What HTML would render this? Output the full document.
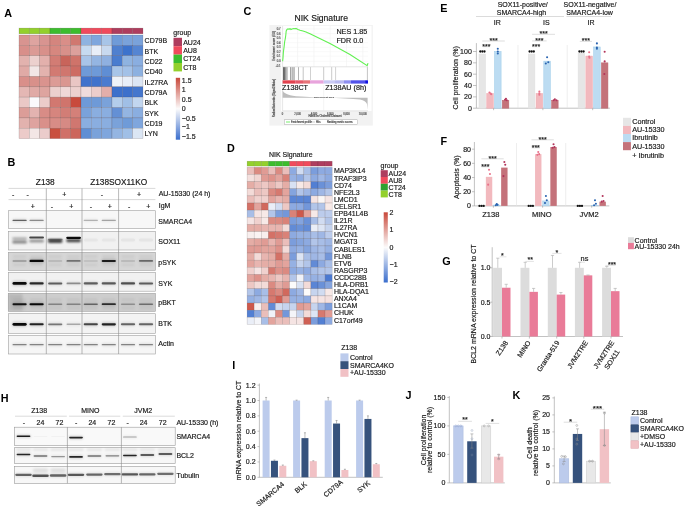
<!DOCTYPE html>
<html><head><meta charset="utf-8"><title>Figure</title>
<style>
html,body{margin:0;padding:0;background:#fff;}
svg{display:block;font-family:"Liberation Sans",sans-serif;font-size:7px;fill:#1a1a1a;will-change:transform;}

</style></head><body>
<svg width="685" height="506" viewBox="0 0 685 506">
<rect width="685" height="506" fill="#fff"/>
<text x="4.2" y="16.8" font-weight="bold" font-size="10.8" fill="#000">A</text>
<g stroke="#3a2a2a" stroke-opacity="0.3" stroke-width="0.5">
<rect x="19" y="28.1" width="10.33" height="5.7" fill="#93d02c"/>
<rect x="29.33" y="28.1" width="10.33" height="5.7" fill="#93d02c"/>
<rect x="39.66" y="28.1" width="10.33" height="5.7" fill="#93d02c"/>
<rect x="49.99" y="28.1" width="10.33" height="5.7" fill="#3cbd2e"/>
<rect x="60.32" y="28.1" width="10.33" height="5.7" fill="#3cbd2e"/>
<rect x="70.65" y="28.1" width="10.33" height="5.7" fill="#3cbd2e"/>
<rect x="80.98" y="28.1" width="10.33" height="5.7" fill="#f04a5c"/>
<rect x="91.31" y="28.1" width="10.33" height="5.7" fill="#f04a5c"/>
<rect x="101.64" y="28.1" width="10.33" height="5.7" fill="#f04a5c"/>
<rect x="111.97" y="28.1" width="10.33" height="5.7" fill="#ae3d5e"/>
<rect x="122.3" y="28.1" width="10.33" height="5.7" fill="#ae3d5e"/>
<rect x="132.63" y="28.1" width="10.33" height="5.7" fill="#ae3d5e"/>
<rect x="19" y="35" width="10.33" height="10.36" fill="#d89490"/>
<rect x="29.33" y="35" width="10.33" height="10.36" fill="#dea4a0"/>
<rect x="39.66" y="35" width="10.33" height="10.36" fill="#d89490"/>
<rect x="49.99" y="35" width="10.33" height="10.36" fill="#d4857e"/>
<rect x="60.32" y="35" width="10.33" height="10.36" fill="#d98e88"/>
<rect x="70.65" y="35" width="10.33" height="10.36" fill="#d07870"/>
<rect x="80.98" y="35" width="10.33" height="10.36" fill="#8fb3e0"/>
<rect x="91.31" y="35" width="10.33" height="10.36" fill="#7fa6dd"/>
<rect x="101.64" y="35" width="10.33" height="10.36" fill="#a8c5e8"/>
<rect x="111.97" y="35" width="10.33" height="10.36" fill="#6f9bd8"/>
<rect x="122.3" y="35" width="10.33" height="10.36" fill="#7aa2da"/>
<rect x="132.63" y="35" width="10.33" height="10.36" fill="#7aa2da"/>
<rect x="19" y="45.36" width="10.33" height="10.36" fill="#d88f8a"/>
<rect x="29.33" y="45.36" width="10.33" height="10.36" fill="#db9a95"/>
<rect x="39.66" y="45.36" width="10.33" height="10.36" fill="#d8908a"/>
<rect x="49.99" y="45.36" width="10.33" height="10.36" fill="#d6877f"/>
<rect x="60.32" y="45.36" width="10.33" height="10.36" fill="#d8908a"/>
<rect x="70.65" y="45.36" width="10.33" height="10.36" fill="#dca09c"/>
<rect x="80.98" y="45.36" width="10.33" height="10.36" fill="#c6daf0"/>
<rect x="91.31" y="45.36" width="10.33" height="10.36" fill="#e8eef8"/>
<rect x="101.64" y="45.36" width="10.33" height="10.36" fill="#c8d9ef"/>
<rect x="111.97" y="45.36" width="10.33" height="10.36" fill="#4f80cf"/>
<rect x="122.3" y="45.36" width="10.33" height="10.36" fill="#3d73cc"/>
<rect x="132.63" y="45.36" width="10.33" height="10.36" fill="#5585d2"/>
<rect x="19" y="55.72" width="10.33" height="10.36" fill="#e2b2ae"/>
<rect x="29.33" y="55.72" width="10.33" height="10.36" fill="#ecd0ce"/>
<rect x="39.66" y="55.72" width="10.33" height="10.36" fill="#e3b0ac"/>
<rect x="49.99" y="55.72" width="10.33" height="10.36" fill="#d27c74"/>
<rect x="60.32" y="55.72" width="10.33" height="10.36" fill="#c8645a"/>
<rect x="70.65" y="55.72" width="10.33" height="10.36" fill="#cf736a"/>
<rect x="80.98" y="55.72" width="10.33" height="10.36" fill="#a8c4e8"/>
<rect x="91.31" y="55.72" width="10.33" height="10.36" fill="#94b5e2"/>
<rect x="101.64" y="55.72" width="10.33" height="10.36" fill="#8fb0e0"/>
<rect x="111.97" y="55.72" width="10.33" height="10.36" fill="#4a7dcf"/>
<rect x="122.3" y="55.72" width="10.33" height="10.36" fill="#8fb3e0"/>
<rect x="132.63" y="55.72" width="10.33" height="10.36" fill="#8aaee0"/>
<rect x="19" y="66.08" width="10.33" height="10.36" fill="#e0aaa6"/>
<rect x="29.33" y="66.08" width="10.33" height="10.36" fill="#f2e6e6"/>
<rect x="39.66" y="66.08" width="10.33" height="10.36" fill="#e3b2ae"/>
<rect x="49.99" y="66.08" width="10.33" height="10.36" fill="#d27a72"/>
<rect x="60.32" y="66.08" width="10.33" height="10.36" fill="#d0766e"/>
<rect x="70.65" y="66.08" width="10.33" height="10.36" fill="#cd6c64"/>
<rect x="80.98" y="66.08" width="10.33" height="10.36" fill="#6e9ad8"/>
<rect x="91.31" y="66.08" width="10.33" height="10.36" fill="#6e9ad8"/>
<rect x="101.64" y="66.08" width="10.33" height="10.36" fill="#5f8ed4"/>
<rect x="111.97" y="66.08" width="10.33" height="10.36" fill="#a8c5e8"/>
<rect x="122.3" y="66.08" width="10.33" height="10.36" fill="#a3c1e7"/>
<rect x="132.63" y="66.08" width="10.33" height="10.36" fill="#8db1e0"/>
<rect x="19" y="76.44" width="10.33" height="10.36" fill="#d98f8a"/>
<rect x="29.33" y="76.44" width="10.33" height="10.36" fill="#d8908a"/>
<rect x="39.66" y="76.44" width="10.33" height="10.36" fill="#da938e"/>
<rect x="49.99" y="76.44" width="10.33" height="10.36" fill="#dc9b96"/>
<rect x="60.32" y="76.44" width="10.33" height="10.36" fill="#da9690"/>
<rect x="70.65" y="76.44" width="10.33" height="10.36" fill="#e9c6c4"/>
<rect x="80.98" y="76.44" width="10.33" height="10.36" fill="#4173cc"/>
<rect x="91.31" y="76.44" width="10.33" height="10.36" fill="#4173cc"/>
<rect x="101.64" y="76.44" width="10.33" height="10.36" fill="#4a7bcf"/>
<rect x="111.97" y="76.44" width="10.33" height="10.36" fill="#eef2f8"/>
<rect x="122.3" y="76.44" width="10.33" height="10.36" fill="#e8eef8"/>
<rect x="132.63" y="76.44" width="10.33" height="10.36" fill="#dce6f4"/>
<rect x="19" y="86.8" width="10.33" height="10.36" fill="#e4b7b4"/>
<rect x="29.33" y="86.8" width="10.33" height="10.36" fill="#e0aaa6"/>
<rect x="39.66" y="86.8" width="10.33" height="10.36" fill="#dea49f"/>
<rect x="49.99" y="86.8" width="10.33" height="10.36" fill="#ecd0ce"/>
<rect x="60.32" y="86.8" width="10.33" height="10.36" fill="#efd8d7"/>
<rect x="70.65" y="86.8" width="10.33" height="10.36" fill="#ecd0ce"/>
<rect x="80.98" y="86.8" width="10.33" height="10.36" fill="#f0dcdc"/>
<rect x="91.31" y="86.8" width="10.33" height="10.36" fill="#eccdcb"/>
<rect x="101.64" y="86.8" width="10.33" height="10.36" fill="#e2aeaa"/>
<rect x="111.97" y="86.8" width="10.33" height="10.36" fill="#3c70cb"/>
<rect x="122.3" y="86.8" width="10.33" height="10.36" fill="#3c70cb"/>
<rect x="132.63" y="86.8" width="10.33" height="10.36" fill="#4577cd"/>
<rect x="19" y="97.16" width="10.33" height="10.36" fill="#eac8c6"/>
<rect x="29.33" y="97.16" width="10.33" height="10.36" fill="#fafafc"/>
<rect x="39.66" y="97.16" width="10.33" height="10.36" fill="#ecccca"/>
<rect x="49.99" y="97.16" width="10.33" height="10.36" fill="#d27870"/>
<rect x="60.32" y="97.16" width="10.33" height="10.36" fill="#d0746c"/>
<rect x="70.65" y="97.16" width="10.33" height="10.36" fill="#c84a3c"/>
<rect x="80.98" y="97.16" width="10.33" height="10.36" fill="#6e9ad8"/>
<rect x="91.31" y="97.16" width="10.33" height="10.36" fill="#6e9ad8"/>
<rect x="101.64" y="97.16" width="10.33" height="10.36" fill="#7aa2da"/>
<rect x="111.97" y="97.16" width="10.33" height="10.36" fill="#b3cdeb"/>
<rect x="122.3" y="97.16" width="10.33" height="10.36" fill="#a0bfe6"/>
<rect x="132.63" y="97.16" width="10.33" height="10.36" fill="#c2d6ef"/>
<rect x="19" y="107.52" width="10.33" height="10.36" fill="#dc9d98"/>
<rect x="29.33" y="107.52" width="10.33" height="10.36" fill="#e3b3b0"/>
<rect x="39.66" y="107.52" width="10.33" height="10.36" fill="#d88c86"/>
<rect x="49.99" y="107.52" width="10.33" height="10.36" fill="#d6857e"/>
<rect x="60.32" y="107.52" width="10.33" height="10.36" fill="#d27d76"/>
<rect x="70.65" y="107.52" width="10.33" height="10.36" fill="#d48079"/>
<rect x="80.98" y="107.52" width="10.33" height="10.36" fill="#7aa2da"/>
<rect x="91.31" y="107.52" width="10.33" height="10.36" fill="#8aaee0"/>
<rect x="101.64" y="107.52" width="10.33" height="10.36" fill="#8aaee0"/>
<rect x="111.97" y="107.52" width="10.33" height="10.36" fill="#6490d5"/>
<rect x="122.3" y="107.52" width="10.33" height="10.36" fill="#94b5e2"/>
<rect x="132.63" y="107.52" width="10.33" height="10.36" fill="#8aaee0"/>
<rect x="19" y="117.88" width="10.33" height="10.36" fill="#e2b2ae"/>
<rect x="29.33" y="117.88" width="10.33" height="10.36" fill="#dea39f"/>
<rect x="39.66" y="117.88" width="10.33" height="10.36" fill="#d9908a"/>
<rect x="49.99" y="117.88" width="10.33" height="10.36" fill="#d88c86"/>
<rect x="60.32" y="117.88" width="10.33" height="10.36" fill="#d68a84"/>
<rect x="70.65" y="117.88" width="10.33" height="10.36" fill="#d07770"/>
<rect x="80.98" y="117.88" width="10.33" height="10.36" fill="#8aaee0"/>
<rect x="91.31" y="117.88" width="10.33" height="10.36" fill="#8aaee0"/>
<rect x="101.64" y="117.88" width="10.33" height="10.36" fill="#8aaee0"/>
<rect x="111.97" y="117.88" width="10.33" height="10.36" fill="#7aa2da"/>
<rect x="122.3" y="117.88" width="10.33" height="10.36" fill="#6f9bd8"/>
<rect x="132.63" y="117.88" width="10.33" height="10.36" fill="#7fa6dd"/>
<rect x="19" y="128.24" width="10.33" height="10.36" fill="#eccbc9"/>
<rect x="29.33" y="128.24" width="10.33" height="10.36" fill="#f3e6e5"/>
<rect x="39.66" y="128.24" width="10.33" height="10.36" fill="#ebcccb"/>
<rect x="49.99" y="128.24" width="10.33" height="10.36" fill="#c9503f"/>
<rect x="60.32" y="128.24" width="10.33" height="10.36" fill="#d07068"/>
<rect x="70.65" y="128.24" width="10.33" height="10.36" fill="#cc665c"/>
<rect x="80.98" y="128.24" width="10.33" height="10.36" fill="#5f8ed4"/>
<rect x="91.31" y="128.24" width="10.33" height="10.36" fill="#7aa2da"/>
<rect x="101.64" y="128.24" width="10.33" height="10.36" fill="#7fa6dd"/>
<rect x="111.97" y="128.24" width="10.33" height="10.36" fill="#94b5e2"/>
<rect x="122.3" y="128.24" width="10.33" height="10.36" fill="#a0bfe6"/>
<rect x="132.63" y="128.24" width="10.33" height="10.36" fill="#dbe6f4"/>
</g>
<text x="144.6" y="43.18" stroke="#1a1a1a" stroke-width="0.18">CD79B</text>
<text x="144.6" y="53.54" stroke="#1a1a1a" stroke-width="0.18">BTK</text>
<text x="144.6" y="63.9" stroke="#1a1a1a" stroke-width="0.18">CD22</text>
<text x="144.6" y="74.26" stroke="#1a1a1a" stroke-width="0.18">CD40</text>
<text x="144.6" y="84.62" stroke="#1a1a1a" stroke-width="0.18">IL27RA</text>
<text x="144.6" y="94.98" stroke="#1a1a1a" stroke-width="0.18">CD79A</text>
<text x="144.6" y="105.34" stroke="#1a1a1a" stroke-width="0.18">BLK</text>
<text x="144.6" y="115.7" stroke="#1a1a1a" stroke-width="0.18">SYK</text>
<text x="144.6" y="126.06" stroke="#1a1a1a" stroke-width="0.18">CD19</text>
<text x="144.6" y="136.42" stroke="#1a1a1a" stroke-width="0.18">LYN</text>
<text x="173.3" y="34.9" stroke="#1a1a1a" stroke-width="0.18">group</text>
<rect x="173.5" y="37.8" width="8.5" height="8.4" fill="#ae3d5e"/>
<text x="183.2" y="44.5" stroke="#1a1a1a" stroke-width="0.18">AU24</text>
<rect x="173.5" y="46.2" width="8.5" height="8.4" fill="#f04a5c"/>
<text x="183.2" y="52.9" stroke="#1a1a1a" stroke-width="0.18">AU8</text>
<rect x="173.5" y="54.6" width="8.5" height="8.4" fill="#3cbd2e"/>
<text x="183.2" y="61.3" stroke="#1a1a1a" stroke-width="0.18">CT24</text>
<rect x="173.5" y="63" width="8.5" height="8.4" fill="#93d02c"/>
<text x="183.2" y="69.7" stroke="#1a1a1a" stroke-width="0.18">CT8</text>
<defs><linearGradient id="cbA" x1="0" y1="0" x2="0" y2="1"><stop offset="0" stop-color="#c8483a"/><stop offset="0.5" stop-color="#fcfbfb"/><stop offset="1" stop-color="#3a6ecd"/></linearGradient></defs>
<rect x="175.8" y="77.8" width="4.3" height="61.9" fill="url(#cbA)"/>
<text x="181.8" y="83.2" stroke="#1a1a1a" stroke-width="0.18">1.5</text>
<text x="181.8" y="92.4" stroke="#1a1a1a" stroke-width="0.18">1</text>
<text x="181.8" y="101.7" stroke="#1a1a1a" stroke-width="0.18">0.5</text>
<text x="181.8" y="110.9" stroke="#1a1a1a" stroke-width="0.18">0</text>
<text x="181.8" y="120.5" stroke="#1a1a1a" stroke-width="0.18">−0.5</text>
<text x="181.8" y="129.4" stroke="#1a1a1a" stroke-width="0.18">−1</text>
<text x="181.8" y="138.6" stroke="#1a1a1a" stroke-width="0.18">−1.5</text>
<text x="243.6" y="15.3" font-weight="bold" font-size="10.8" fill="#000">C</text>
<text x="321.2" y="21" stroke="#1a1a1a" stroke-width="0.18" text-anchor="middle" font-size="8.6">NIK Signature</text>
<rect x="269.4" y="25" width="103.4" height="100.6" fill="#f2f2f2"/>
<rect x="281.2" y="25.8" width="90.3" height="85.2" fill="#ffffff"/>
<line x1="297.6" y1="26" x2="297.6" y2="66.5" stroke="#eeeeee" stroke-width="0.5"/>
<line x1="313.9" y1="26" x2="313.9" y2="66.5" stroke="#eeeeee" stroke-width="0.5"/>
<line x1="330.2" y1="26" x2="330.2" y2="66.5" stroke="#eeeeee" stroke-width="0.5"/>
<line x1="346.5" y1="26" x2="346.5" y2="66.5" stroke="#eeeeee" stroke-width="0.5"/>
<line x1="362.8" y1="26" x2="362.8" y2="66.5" stroke="#eeeeee" stroke-width="0.5"/>
<line x1="282.6" y1="28.9" x2="368" y2="28.9" stroke="#f2f2f2" stroke-width="0.5"/>
<line x1="282.6" y1="33.6" x2="368" y2="33.6" stroke="#f2f2f2" stroke-width="0.5"/>
<line x1="282.6" y1="38.1" x2="368" y2="38.1" stroke="#f2f2f2" stroke-width="0.5"/>
<line x1="282.6" y1="42.7" x2="368" y2="42.7" stroke="#f2f2f2" stroke-width="0.5"/>
<line x1="282.6" y1="47.3" x2="368" y2="47.3" stroke="#f2f2f2" stroke-width="0.5"/>
<line x1="282.6" y1="51.7" x2="368" y2="51.7" stroke="#f2f2f2" stroke-width="0.5"/>
<line x1="282.6" y1="56.2" x2="368" y2="56.2" stroke="#f2f2f2" stroke-width="0.5"/>
<line x1="282.6" y1="61.3" x2="368" y2="61.3" stroke="#f2f2f2" stroke-width="0.5"/>
<line x1="282.6" y1="26" x2="282.6" y2="110.8" stroke="#cfcfcf" stroke-width="0.5"/>
<text x="280.6" y="29.9" stroke="#666" stroke-width="0.18" text-anchor="end" font-size="2.8" fill="#666">0.7</text>
<text x="280.6" y="34.6" stroke="#666" stroke-width="0.18" text-anchor="end" font-size="2.8" fill="#666">0.6</text>
<text x="280.6" y="39.1" stroke="#666" stroke-width="0.18" text-anchor="end" font-size="2.8" fill="#666">0.5</text>
<text x="280.6" y="43.7" stroke="#666" stroke-width="0.18" text-anchor="end" font-size="2.8" fill="#666">0.4</text>
<text x="280.6" y="48.3" stroke="#666" stroke-width="0.18" text-anchor="end" font-size="2.8" fill="#666">0.3</text>
<text x="280.6" y="52.7" stroke="#666" stroke-width="0.18" text-anchor="end" font-size="2.8" fill="#666">0.2</text>
<text x="280.6" y="57.2" stroke="#666" stroke-width="0.18" text-anchor="end" font-size="2.8" fill="#666">0.1</text>
<text x="280.6" y="62.3" stroke="#666" stroke-width="0.18" text-anchor="end" font-size="2.8" fill="#666">0.0</text>
<text x="280.6" y="67" stroke="#666" stroke-width="0.18" text-anchor="end" font-size="2.8" fill="#666">-0.1</text>
<text transform="translate(274.6,46) rotate(-90)" stroke="#555" stroke-width="0.18" text-anchor="middle" font-size="3" fill="#555">Enrichment score (ES)</text>
<text transform="translate(274.6,98) rotate(-90)" stroke="#555" stroke-width="0.18" text-anchor="middle" font-size="2.6" fill="#555">Ranked list metric (Signal2Noise)</text>
<polyline points="282.6,61.3 283,58 283.4,52 283.8,49 284.2,46 284.6,42 285,40 285.4,38 285.8,35 286.2,31 287,29.5 288,28.8 289,29.3 290,28.6 291,29.5 292,29.1 293,28.7 294,28.5 295,28.7 296,28.4 297,28.9 298,29.4 300,30.2 303,31 306,32 310,33.8 330,43.6 350,54.5 367.2,65.6 368,63.2" fill="none" stroke="#62f052" stroke-width="1.1"/>
<text x="336.4" y="34.1" stroke="#1a1a1a" stroke-width="0.18" font-size="7.2">NES 1.85</text>
<text x="336.4" y="42.8" stroke="#1a1a1a" stroke-width="0.18" font-size="7.2">FDR 0.0</text>
<line x1="283.5" y1="67.1" x2="283.5" y2="80" stroke="rgba(0,0,0,0.9)" stroke-width="0.6"/>
<line x1="284.3" y1="67.1" x2="284.3" y2="80" stroke="rgba(0,0,0,0.9)" stroke-width="0.6"/>
<line x1="285" y1="67.1" x2="285" y2="80" stroke="rgba(0,0,0,0.8)" stroke-width="0.6"/>
<line x1="286" y1="67.1" x2="286" y2="80" stroke="rgba(0,0,0,0.7)" stroke-width="0.6"/>
<line x1="287.2" y1="67.1" x2="287.2" y2="80" stroke="rgba(0,0,0,0.5)" stroke-width="0.6"/>
<line x1="290.5" y1="67.1" x2="290.5" y2="80" stroke="rgba(0,0,0,0.6)" stroke-width="0.6"/>
<line x1="292" y1="67.1" x2="292" y2="80" stroke="rgba(0,0,0,0.55)" stroke-width="0.6"/>
<line x1="293" y1="67.1" x2="293" y2="80" stroke="rgba(0,0,0,0.45)" stroke-width="0.6"/>
<line x1="294.2" y1="67.1" x2="294.2" y2="80" stroke="rgba(0,0,0,0.6)" stroke-width="0.6"/>
<line x1="298.5" y1="67.1" x2="298.5" y2="80" stroke="rgba(0,0,0,0.5)" stroke-width="0.6"/>
<line x1="303.2" y1="67.1" x2="303.2" y2="80" stroke="rgba(0,0,0,0.4)" stroke-width="0.6"/>
<line x1="310.5" y1="67.1" x2="310.5" y2="80" stroke="rgba(0,0,0,0.3)" stroke-width="0.6"/>
<line x1="323.7" y1="67.1" x2="323.7" y2="80" stroke="rgba(0,0,0,0.35)" stroke-width="0.6"/>
<line x1="331.7" y1="67.1" x2="331.7" y2="80" stroke="rgba(0,0,0,0.35)" stroke-width="0.6"/>
<line x1="335.6" y1="67.1" x2="335.6" y2="80" stroke="rgba(0,0,0,0.3)" stroke-width="0.6"/>
<line x1="367.4" y1="67.1" x2="367.4" y2="80" stroke="rgba(0,0,0,0.4)" stroke-width="0.6"/>
<line x1="282.6" y1="66.8" x2="368" y2="66.8" stroke="#bbbbbb" stroke-width="0.4"/>
<rect x="282.6" y="80.3" width="12.6" height="3.3" fill="#e2424e"/>
<rect x="295.2" y="80.3" width="7.8" height="3.3" fill="#e45a6a"/>
<rect x="303" y="80.3" width="7" height="3.3" fill="#e67478"/>
<rect x="310" y="80.3" width="13.7" height="3.3" fill="#e8a4dc"/>
<rect x="323.7" y="80.3" width="10.6" height="3.3" fill="#cacaf4"/>
<rect x="334.3" y="80.3" width="9.6" height="3.3" fill="#b9b9f0"/>
<rect x="343.9" y="80.3" width="7.1" height="3.3" fill="#8f8ff0"/>
<rect x="351" y="80.3" width="14.1" height="3.3" fill="#5252ea"/>
<rect x="365.1" y="80.3" width="2.9" height="3.3" fill="#1212e0"/>
<text x="282" y="90" stroke="#1a1a1a" stroke-width="0.18" font-size="7.2">Z138CT</text>
<text x="325.2" y="90" stroke="#1a1a1a" stroke-width="0.18" font-size="7.2">Z138AU (8h)</text>
<path d="M282.6,90.2 C283.5,93 287,95 296,96.3 C310,97.2 318,97.6 326,97.8 L282.6,97.8 Z" fill="#bdbdbd"/>
<path d="M326,97.8 C340,98.2 352,98.8 360,99.6 C364,100.3 366,102 367,104 L367.6,109.8 L367.6,97.8 Z" fill="#bdbdbd"/>
<line x1="282.6" y1="110.8" x2="368" y2="110.8" stroke="#cfcfcf" stroke-width="0.5"/>
<text x="324" y="98" stroke="#777" stroke-width="0.18" text-anchor="middle" font-size="2.4" fill="#777">Zero cross at 5013</text>
<line x1="323.7" y1="85" x2="323.7" y2="110.5" stroke="#e4e4e4" stroke-width="0.4"/>
<text x="282.6" y="114.5" stroke="#666" stroke-width="0.18" text-anchor="middle" font-size="2.6" fill="#666">0</text>
<text x="297.6" y="114.5" stroke="#666" stroke-width="0.18" text-anchor="middle" font-size="2.6" fill="#666">2,000</text>
<text x="313.9" y="114.5" stroke="#666" stroke-width="0.18" text-anchor="middle" font-size="2.6" fill="#666">4,000</text>
<text x="330.2" y="114.5" stroke="#666" stroke-width="0.18" text-anchor="middle" font-size="2.6" fill="#666">6,000</text>
<text x="346.5" y="114.5" stroke="#666" stroke-width="0.18" text-anchor="middle" font-size="2.6" fill="#666">8,000</text>
<text x="362.8" y="114.5" stroke="#666" stroke-width="0.18" text-anchor="middle" font-size="2.6" fill="#666">10,000</text>
<text x="325" y="116.8" stroke="#555" stroke-width="0.18" text-anchor="middle" font-size="3" fill="#555">Rank in Ordered Dataset</text>
<rect x="284.3" y="119.8" width="73.5" height="4.5" fill="#ffffff" stroke="#999" stroke-width="0.4"/>
<line x1="286" y1="122" x2="290" y2="122" stroke="#57e84a" stroke-width="0.8"/>
<text x="291" y="123" stroke="#555" stroke-width="0.18" font-size="2.6" fill="#555">Enrichment profile</text>
<line x1="312" y1="122" x2="315" y2="122" stroke="#999" stroke-width="0.5"/>
<text x="316" y="123" stroke="#555" stroke-width="0.18" font-size="2.6" fill="#555">Hits</text>
<text x="327" y="123" stroke="#555" stroke-width="0.18" font-size="2.6" fill="#555">Ranking metric scores</text>
<text x="7.4" y="165.9" font-weight="bold" font-size="10.8" fill="#000">B</text>
<text x="45.3" y="185.2" stroke="#1a1a1a" stroke-width="0.18" text-anchor="middle" font-size="8.3">Z138</text>
<text x="118.7" y="185.2" stroke="#1a1a1a" stroke-width="0.18" text-anchor="middle" font-size="8.3">Z138SOX11KO</text>
<line x1="8.5" y1="188.4" x2="155.4" y2="188.4" stroke="#c8c8c8" stroke-width="0.7"/>
<line x1="8.5" y1="199.6" x2="155.4" y2="199.6" stroke="#c8c8c8" stroke-width="0.7"/>
<text x="13.1" y="196.6" stroke="#1a1a1a" stroke-width="0.18" text-anchor="middle">-</text>
<text x="27.6" y="196.6" stroke="#1a1a1a" stroke-width="0.18" text-anchor="middle">-</text>
<text x="64.4" y="196.6" stroke="#1a1a1a" stroke-width="0.18" text-anchor="middle">+</text>
<text x="102" y="196.6" stroke="#1a1a1a" stroke-width="0.18" text-anchor="middle">-</text>
<text x="139" y="196.6" stroke="#1a1a1a" stroke-width="0.18" text-anchor="middle">+</text>
<text x="32.8" y="208.6" stroke="#1a1a1a" stroke-width="0.18" text-anchor="middle">+</text>
<text x="51.9" y="208.6" stroke="#1a1a1a" stroke-width="0.18" text-anchor="middle">-</text>
<text x="71.3" y="208.6" stroke="#1a1a1a" stroke-width="0.18" text-anchor="middle">+</text>
<text x="91" y="208.6" stroke="#1a1a1a" stroke-width="0.18" text-anchor="middle">-</text>
<text x="109.8" y="208.6" stroke="#1a1a1a" stroke-width="0.18" text-anchor="middle">+</text>
<text x="129.1" y="208.6" stroke="#1a1a1a" stroke-width="0.18" text-anchor="middle">-</text>
<text x="148.4" y="208.6" stroke="#1a1a1a" stroke-width="0.18" text-anchor="middle">+</text>
<text x="158.7" y="196.4" stroke="#1a1a1a" stroke-width="0.18">AU-15330 (24 h)</text>
<text x="158.7" y="208.4" stroke="#1a1a1a" stroke-width="0.18">IgM</text>
<defs><filter id="bl" x="-20%" y="-200%" width="140%" height="500%"><feGaussianBlur stdDeviation="0.75"/></filter><filter id="bl2" x="-20%" y="-200%" width="140%" height="500%"><feGaussianBlur stdDeviation="1.1"/></filter></defs>
<rect x="8.3" y="210.7" width="147.1" height="17.9" fill="#f7f7f7" stroke="#a0a0a0" stroke-width="0.6"/>
<rect x="12.5" y="219.75" width="14.2" height="1.3" rx="0.65" fill="rgba(0,0,0,0.57)" filter="url(#bl)"/>
<rect x="12.1" y="218.65" width="15" height="3.5" rx="1.75" fill="rgba(0,0,0,0.11)" filter="url(#bl2)"/>
<rect x="29.5" y="219.8" width="14.2" height="1.2" rx="0.6" fill="rgba(0,0,0,0.4)" filter="url(#bl)"/>
<rect x="29.1" y="218.7" width="15" height="3.4" rx="1.7" fill="rgba(0,0,0,0.08)" filter="url(#bl2)"/>
<rect x="83.7" y="219.85" width="14.2" height="1.1" rx="0.55" fill="rgba(0,0,0,0.25)" filter="url(#bl)"/>
<rect x="83.3" y="218.75" width="15" height="3.3" rx="1.65" fill="rgba(0,0,0,0.05)" filter="url(#bl2)"/>
<rect x="101.7" y="219.85" width="14.2" height="1.1" rx="0.55" fill="rgba(0,0,0,0.3)" filter="url(#bl)"/>
<rect x="101.3" y="218.75" width="15" height="3.3" rx="1.65" fill="rgba(0,0,0,0.06)" filter="url(#bl2)"/>
<text x="158.3" y="223.65" stroke="#1a1a1a" stroke-width="0.18">SMARCA4</text>
<rect x="8.3" y="231.3" width="147.1" height="18.7" fill="#f1f1f1" stroke="#a0a0a0" stroke-width="0.6"/>
<rect x="12.2" y="237.4" width="14.8" height="2.2" rx="1.1" fill="rgba(0,0,0,0.35)" filter="url(#bl2)"/>
<rect x="12.2" y="240.4" width="14.8" height="3.2" rx="1.6" fill="rgba(0,0,0,0.45)" filter="url(#bl2)"/>
<rect x="29.2" y="236.5" width="14.8" height="2" rx="1" fill="rgba(0,0,0,0.7)" filter="url(#bl)"/>
<rect x="29.2" y="239.4" width="14.8" height="3.2" rx="1.6" fill="rgba(0,0,0,0.38)" filter="url(#bl2)"/>
<rect x="47.8" y="238.9" width="14.8" height="4.2" rx="2" fill="rgba(0,0,0,0.72)" filter="url(#bl2)"/>
<rect x="47.8" y="238.75" width="14.8" height="1.5" rx="0.75" fill="rgba(0,0,0,0.3)" filter="url(#bl)"/>
<rect x="66.2" y="236.7" width="14.8" height="2.2" rx="1.1" fill="rgba(0,0,0,0.95)" filter="url(#bl)"/>
<rect x="66.2" y="239" width="14.8" height="3.2" rx="1.6" fill="rgba(0,0,0,0.7)" filter="url(#bl2)"/>
<rect x="83.7" y="238.5" width="14.2" height="3" rx="1.5" fill="rgba(0,0,0,0.03)" filter="url(#bl)"/>
<rect x="83.3" y="237.4" width="15" height="5.2" rx="2" fill="rgba(0,0,0,0.01)" filter="url(#bl2)"/>
<rect x="101.7" y="238.5" width="14.2" height="3" rx="1.5" fill="rgba(0,0,0,0.03)" filter="url(#bl)"/>
<rect x="101.3" y="237.4" width="15" height="5.2" rx="2" fill="rgba(0,0,0,0.01)" filter="url(#bl2)"/>
<rect x="120.9" y="238.5" width="14.2" height="3" rx="1.5" fill="rgba(0,0,0,0.04)" filter="url(#bl)"/>
<rect x="120.5" y="237.4" width="15" height="5.2" rx="2" fill="rgba(0,0,0,0.01)" filter="url(#bl2)"/>
<rect x="138.9" y="238.5" width="14.2" height="3" rx="1.5" fill="rgba(0,0,0,0.04)" filter="url(#bl)"/>
<rect x="138.5" y="237.4" width="15" height="5.2" rx="2" fill="rgba(0,0,0,0.01)" filter="url(#bl2)"/>
<text x="158.3" y="243.75" stroke="#1a1a1a" stroke-width="0.18">SOX11</text>
<rect x="8.3" y="252.3" width="147.1" height="18" fill="#d6d6d6" stroke="#a0a0a0" stroke-width="0.6"/>
<rect x="12.6" y="255.3" width="14" height="2.2" rx="1.1" fill="rgba(0,0,0,0.06)" filter="url(#bl2)"/>
<rect x="12.6" y="263.65" width="14" height="2.5" rx="1.25" fill="rgba(0,0,0,0.05)" filter="url(#bl2)"/>
<rect x="29.6" y="255.3" width="14" height="2.2" rx="1.1" fill="rgba(0,0,0,0.06)" filter="url(#bl2)"/>
<rect x="29.6" y="263.65" width="14" height="2.5" rx="1.25" fill="rgba(0,0,0,0.05)" filter="url(#bl2)"/>
<rect x="48.2" y="255.3" width="14" height="2.2" rx="1.1" fill="rgba(0,0,0,0.06)" filter="url(#bl2)"/>
<rect x="48.2" y="263.65" width="14" height="2.5" rx="1.25" fill="rgba(0,0,0,0.05)" filter="url(#bl2)"/>
<rect x="66.6" y="255.3" width="14" height="2.2" rx="1.1" fill="rgba(0,0,0,0.06)" filter="url(#bl2)"/>
<rect x="66.6" y="263.65" width="14" height="2.5" rx="1.25" fill="rgba(0,0,0,0.05)" filter="url(#bl2)"/>
<rect x="83.8" y="255.3" width="14" height="2.2" rx="1.1" fill="rgba(0,0,0,0.06)" filter="url(#bl2)"/>
<rect x="83.8" y="263.65" width="14" height="2.5" rx="1.25" fill="rgba(0,0,0,0.05)" filter="url(#bl2)"/>
<rect x="101.8" y="255.3" width="14" height="2.2" rx="1.1" fill="rgba(0,0,0,0.06)" filter="url(#bl2)"/>
<rect x="101.8" y="263.65" width="14" height="2.5" rx="1.25" fill="rgba(0,0,0,0.05)" filter="url(#bl2)"/>
<rect x="121" y="255.3" width="14" height="2.2" rx="1.1" fill="rgba(0,0,0,0.06)" filter="url(#bl2)"/>
<rect x="121" y="263.65" width="14" height="2.5" rx="1.25" fill="rgba(0,0,0,0.05)" filter="url(#bl2)"/>
<rect x="139" y="255.3" width="14" height="2.2" rx="1.1" fill="rgba(0,0,0,0.06)" filter="url(#bl2)"/>
<rect x="139" y="263.65" width="14" height="2.5" rx="1.25" fill="rgba(0,0,0,0.05)" filter="url(#bl2)"/>
<rect x="12.5" y="260.15" width="14.2" height="1.5" rx="0.75" fill="rgba(0,0,0,0.28)" filter="url(#bl)"/>
<rect x="12.1" y="259.05" width="15" height="3.7" rx="1.85" fill="rgba(0,0,0,0.05)" filter="url(#bl2)"/>
<rect x="29.5" y="259.7" width="14.2" height="2.4" rx="1.2" fill="rgba(0,0,0,0.95)" filter="url(#bl)"/>
<rect x="29.1" y="258.6" width="15" height="4.6" rx="2" fill="rgba(0,0,0,0.18)" filter="url(#bl2)"/>
<rect x="48.1" y="260.15" width="14.2" height="1.5" rx="0.75" fill="rgba(0,0,0,0.14)" filter="url(#bl)"/>
<rect x="47.7" y="259.05" width="15" height="3.7" rx="1.85" fill="rgba(0,0,0,0.03)" filter="url(#bl2)"/>
<rect x="66.5" y="260.05" width="14.2" height="1.7" rx="0.85" fill="rgba(0,0,0,0.43)" filter="url(#bl)"/>
<rect x="66.1" y="258.95" width="15" height="3.9" rx="1.95" fill="rgba(0,0,0,0.08)" filter="url(#bl2)"/>
<rect x="83.7" y="260.15" width="14.2" height="1.5" rx="0.75" fill="rgba(0,0,0,0.11)" filter="url(#bl)"/>
<rect x="83.3" y="259.05" width="15" height="3.7" rx="1.85" fill="rgba(0,0,0,0.02)" filter="url(#bl2)"/>
<rect x="101.7" y="259.9" width="14.2" height="2" rx="1" fill="rgba(0,0,0,0.84)" filter="url(#bl)"/>
<rect x="101.3" y="258.8" width="15" height="4.2" rx="2" fill="rgba(0,0,0,0.16)" filter="url(#bl2)"/>
<rect x="120.9" y="260.15" width="14.2" height="1.5" rx="0.75" fill="rgba(0,0,0,0.14)" filter="url(#bl)"/>
<rect x="120.5" y="259.05" width="15" height="3.7" rx="1.85" fill="rgba(0,0,0,0.03)" filter="url(#bl2)"/>
<rect x="138.9" y="260.1" width="14.2" height="1.6" rx="0.8" fill="rgba(0,0,0,0.47)" filter="url(#bl)"/>
<rect x="138.5" y="259" width="15" height="3.8" rx="1.9" fill="rgba(0,0,0,0.09)" filter="url(#bl2)"/>
<text x="158.3" y="264.7" stroke="#1a1a1a" stroke-width="0.18">pSYK</text>
<rect x="8.3" y="272.4" width="147.1" height="18.8" fill="#f1f1f1" stroke="#a0a0a0" stroke-width="0.6"/>
<rect x="12.5" y="281.95" width="14.2" height="2.9" rx="1.45" fill="rgba(0,0,0,0.95)" filter="url(#bl)"/>
<rect x="12.1" y="280.85" width="15" height="5.1" rx="2" fill="rgba(0,0,0,0.18)" filter="url(#bl2)"/>
<rect x="29.5" y="282.25" width="14.2" height="2.3" rx="1.15" fill="rgba(0,0,0,0.81)" filter="url(#bl)"/>
<rect x="29.1" y="281.15" width="15" height="4.5" rx="2" fill="rgba(0,0,0,0.15)" filter="url(#bl2)"/>
<rect x="48.1" y="282.4" width="14.2" height="2" rx="1" fill="rgba(0,0,0,0.57)" filter="url(#bl)"/>
<rect x="47.7" y="281.3" width="15" height="4.2" rx="2" fill="rgba(0,0,0,0.11)" filter="url(#bl2)"/>
<rect x="66.5" y="282.55" width="14.2" height="1.7" rx="0.85" fill="rgba(0,0,0,0.38)" filter="url(#bl)"/>
<rect x="66.1" y="281.45" width="15" height="3.9" rx="1.95" fill="rgba(0,0,0,0.07)" filter="url(#bl2)"/>
<rect x="83.7" y="282.3" width="14.2" height="2.2" rx="1.1" fill="rgba(0,0,0,0.57)" filter="url(#bl)"/>
<rect x="83.3" y="281.2" width="15" height="4.4" rx="2" fill="rgba(0,0,0,0.11)" filter="url(#bl2)"/>
<rect x="101.7" y="282.35" width="14.2" height="2.1" rx="1.05" fill="rgba(0,0,0,0.59)" filter="url(#bl)"/>
<rect x="101.3" y="281.25" width="15" height="4.3" rx="2" fill="rgba(0,0,0,0.11)" filter="url(#bl2)"/>
<rect x="120.9" y="282.35" width="14.2" height="2.1" rx="1.05" fill="rgba(0,0,0,0.63)" filter="url(#bl)"/>
<rect x="120.5" y="281.25" width="15" height="4.3" rx="2" fill="rgba(0,0,0,0.12)" filter="url(#bl2)"/>
<rect x="138.9" y="282.4" width="14.2" height="2" rx="1" fill="rgba(0,0,0,0.57)" filter="url(#bl)"/>
<rect x="138.5" y="281.3" width="15" height="4.2" rx="2" fill="rgba(0,0,0,0.11)" filter="url(#bl2)"/>
<text x="158.3" y="285.8" stroke="#1a1a1a" stroke-width="0.18">SYK</text>
<rect x="8.3" y="293.4" width="147.1" height="17.9" fill="#cdcdcd" stroke="#a0a0a0" stroke-width="0.6"/>
<rect x="8.6" y="293.9" width="14" height="16.9" fill="rgba(0,0,0,0.1)" filter="url(#bl2)"/>
<rect x="12.6" y="298.6" width="14" height="2.2" rx="1.1" fill="rgba(0,0,0,0.06)" filter="url(#bl2)"/>
<rect x="12.6" y="306.95" width="14" height="2.5" rx="1.25" fill="rgba(0,0,0,0.05)" filter="url(#bl2)"/>
<rect x="29.6" y="298.6" width="14" height="2.2" rx="1.1" fill="rgba(0,0,0,0.06)" filter="url(#bl2)"/>
<rect x="29.6" y="306.95" width="14" height="2.5" rx="1.25" fill="rgba(0,0,0,0.05)" filter="url(#bl2)"/>
<rect x="48.2" y="298.6" width="14" height="2.2" rx="1.1" fill="rgba(0,0,0,0.06)" filter="url(#bl2)"/>
<rect x="48.2" y="306.95" width="14" height="2.5" rx="1.25" fill="rgba(0,0,0,0.05)" filter="url(#bl2)"/>
<rect x="66.6" y="298.6" width="14" height="2.2" rx="1.1" fill="rgba(0,0,0,0.06)" filter="url(#bl2)"/>
<rect x="66.6" y="306.95" width="14" height="2.5" rx="1.25" fill="rgba(0,0,0,0.05)" filter="url(#bl2)"/>
<rect x="83.8" y="298.6" width="14" height="2.2" rx="1.1" fill="rgba(0,0,0,0.06)" filter="url(#bl2)"/>
<rect x="83.8" y="306.95" width="14" height="2.5" rx="1.25" fill="rgba(0,0,0,0.05)" filter="url(#bl2)"/>
<rect x="101.8" y="298.6" width="14" height="2.2" rx="1.1" fill="rgba(0,0,0,0.06)" filter="url(#bl2)"/>
<rect x="101.8" y="306.95" width="14" height="2.5" rx="1.25" fill="rgba(0,0,0,0.05)" filter="url(#bl2)"/>
<rect x="121" y="298.6" width="14" height="2.2" rx="1.1" fill="rgba(0,0,0,0.06)" filter="url(#bl2)"/>
<rect x="121" y="306.95" width="14" height="2.5" rx="1.25" fill="rgba(0,0,0,0.05)" filter="url(#bl2)"/>
<rect x="139" y="298.6" width="14" height="2.2" rx="1.1" fill="rgba(0,0,0,0.06)" filter="url(#bl2)"/>
<rect x="139" y="306.95" width="14" height="2.5" rx="1.25" fill="rgba(0,0,0,0.05)" filter="url(#bl2)"/>
<rect x="12.5" y="303.25" width="14.2" height="1.9" rx="0.95" fill="rgba(0,0,0,0.87)" filter="url(#bl)"/>
<rect x="12.1" y="302.15" width="15" height="4.1" rx="2" fill="rgba(0,0,0,0.17)" filter="url(#bl2)"/>
<rect x="29.5" y="303.15" width="14.2" height="2.1" rx="1.05" fill="rgba(0,0,0,0.95)" filter="url(#bl)"/>
<rect x="29.1" y="302.05" width="15" height="4.3" rx="2" fill="rgba(0,0,0,0.18)" filter="url(#bl2)"/>
<rect x="48.1" y="303.45" width="14.2" height="1.5" rx="0.75" fill="rgba(0,0,0,0.33)" filter="url(#bl)"/>
<rect x="47.7" y="302.35" width="15" height="3.7" rx="1.85" fill="rgba(0,0,0,0.06)" filter="url(#bl2)"/>
<rect x="66.5" y="303.45" width="14.2" height="1.5" rx="0.75" fill="rgba(0,0,0,0.33)" filter="url(#bl)"/>
<rect x="66.1" y="302.35" width="15" height="3.7" rx="1.85" fill="rgba(0,0,0,0.06)" filter="url(#bl2)"/>
<rect x="83.7" y="303.4" width="14.2" height="1.6" rx="0.8" fill="rgba(0,0,0,0.47)" filter="url(#bl)"/>
<rect x="83.3" y="302.3" width="15" height="3.8" rx="1.9" fill="rgba(0,0,0,0.09)" filter="url(#bl2)"/>
<rect x="101.7" y="303.3" width="14.2" height="1.8" rx="0.9" fill="rgba(0,0,0,0.76)" filter="url(#bl)"/>
<rect x="101.3" y="302.2" width="15" height="4" rx="2" fill="rgba(0,0,0,0.14)" filter="url(#bl2)"/>
<rect x="120.9" y="303.45" width="14.2" height="1.5" rx="0.75" fill="rgba(0,0,0,0.28)" filter="url(#bl)"/>
<rect x="120.5" y="302.35" width="15" height="3.7" rx="1.85" fill="rgba(0,0,0,0.05)" filter="url(#bl2)"/>
<rect x="138.9" y="303.4" width="14.2" height="1.6" rx="0.8" fill="rgba(0,0,0,0.43)" filter="url(#bl)"/>
<rect x="138.5" y="302.3" width="15" height="3.8" rx="1.9" fill="rgba(0,0,0,0.08)" filter="url(#bl2)"/>
<text x="158.3" y="305.45" stroke="#1a1a1a" stroke-width="0.18">pBKT</text>
<rect x="8.3" y="313.7" width="147.1" height="19.8" fill="#f3f3f3" stroke="#a0a0a0" stroke-width="0.6"/>
<rect x="12.5" y="322.95" width="14.2" height="2.7" rx="1.35" fill="rgba(0,0,0,0.95)" filter="url(#bl)"/>
<rect x="12.1" y="321.85" width="15" height="4.9" rx="2" fill="rgba(0,0,0,0.18)" filter="url(#bl2)"/>
<rect x="29.5" y="323.25" width="14.2" height="2.1" rx="1.05" fill="rgba(0,0,0,0.84)" filter="url(#bl)"/>
<rect x="29.1" y="322.15" width="15" height="4.3" rx="2" fill="rgba(0,0,0,0.16)" filter="url(#bl2)"/>
<rect x="48.1" y="323.4" width="14.2" height="1.8" rx="0.9" fill="rgba(0,0,0,0.47)" filter="url(#bl)"/>
<rect x="47.7" y="322.3" width="15" height="4" rx="2" fill="rgba(0,0,0,0.09)" filter="url(#bl2)"/>
<rect x="66.5" y="323.55" width="14.2" height="1.5" rx="0.75" fill="rgba(0,0,0,0.28)" filter="url(#bl)"/>
<rect x="66.1" y="322.45" width="15" height="3.7" rx="1.85" fill="rgba(0,0,0,0.05)" filter="url(#bl2)"/>
<rect x="83.7" y="323.3" width="14.2" height="2" rx="1" fill="rgba(0,0,0,0.68)" filter="url(#bl)"/>
<rect x="83.3" y="322.2" width="15" height="4.2" rx="2" fill="rgba(0,0,0,0.13)" filter="url(#bl2)"/>
<rect x="101.7" y="323.2" width="14.2" height="2.2" rx="1.1" fill="rgba(0,0,0,0.84)" filter="url(#bl)"/>
<rect x="101.3" y="322.1" width="15" height="4.4" rx="2" fill="rgba(0,0,0,0.16)" filter="url(#bl2)"/>
<rect x="120.9" y="323.35" width="14.2" height="1.9" rx="0.95" fill="rgba(0,0,0,0.55)" filter="url(#bl)"/>
<rect x="120.5" y="322.25" width="15" height="4.1" rx="2" fill="rgba(0,0,0,0.1)" filter="url(#bl2)"/>
<rect x="138.9" y="323.35" width="14.2" height="1.9" rx="0.95" fill="rgba(0,0,0,0.55)" filter="url(#bl)"/>
<rect x="138.5" y="322.25" width="15" height="4.1" rx="2" fill="rgba(0,0,0,0.1)" filter="url(#bl2)"/>
<text x="158.3" y="326.1" stroke="#1a1a1a" stroke-width="0.18">BTK</text>
<rect x="8.3" y="335.4" width="147.1" height="18.6" fill="#f6f6f6" stroke="#a0a0a0" stroke-width="0.6"/>
<rect x="12.5" y="344.05" width="14.2" height="1.3" rx="0.65" fill="rgba(0,0,0,0.43)" filter="url(#bl)"/>
<rect x="12.1" y="342.95" width="15" height="3.5" rx="1.75" fill="rgba(0,0,0,0.08)" filter="url(#bl2)"/>
<rect x="29.5" y="344.05" width="14.2" height="1.3" rx="0.65" fill="rgba(0,0,0,0.43)" filter="url(#bl)"/>
<rect x="29.1" y="342.95" width="15" height="3.5" rx="1.75" fill="rgba(0,0,0,0.08)" filter="url(#bl2)"/>
<rect x="48.1" y="344.05" width="14.2" height="1.3" rx="0.65" fill="rgba(0,0,0,0.43)" filter="url(#bl)"/>
<rect x="47.7" y="342.95" width="15" height="3.5" rx="1.75" fill="rgba(0,0,0,0.08)" filter="url(#bl2)"/>
<rect x="66.5" y="344.05" width="14.2" height="1.3" rx="0.65" fill="rgba(0,0,0,0.43)" filter="url(#bl)"/>
<rect x="66.1" y="342.95" width="15" height="3.5" rx="1.75" fill="rgba(0,0,0,0.08)" filter="url(#bl2)"/>
<rect x="83.7" y="344.05" width="14.2" height="1.3" rx="0.65" fill="rgba(0,0,0,0.43)" filter="url(#bl)"/>
<rect x="83.3" y="342.95" width="15" height="3.5" rx="1.75" fill="rgba(0,0,0,0.08)" filter="url(#bl2)"/>
<rect x="101.7" y="344.05" width="14.2" height="1.3" rx="0.65" fill="rgba(0,0,0,0.43)" filter="url(#bl)"/>
<rect x="101.3" y="342.95" width="15" height="3.5" rx="1.75" fill="rgba(0,0,0,0.08)" filter="url(#bl2)"/>
<rect x="120.9" y="344.05" width="14.2" height="1.3" rx="0.65" fill="rgba(0,0,0,0.43)" filter="url(#bl)"/>
<rect x="120.5" y="342.95" width="15" height="3.5" rx="1.75" fill="rgba(0,0,0,0.08)" filter="url(#bl2)"/>
<rect x="138.9" y="344.05" width="14.2" height="1.3" rx="0.65" fill="rgba(0,0,0,0.43)" filter="url(#bl)"/>
<rect x="138.5" y="342.95" width="15" height="3.5" rx="1.75" fill="rgba(0,0,0,0.08)" filter="url(#bl2)"/>
<text x="158.3" y="345.6" stroke="#1a1a1a" stroke-width="0.18">Actin</text>
<line x1="46.3" y1="188.4" x2="46.3" y2="354" stroke="#8a8a8a" stroke-width="0.6"/>
<line x1="82" y1="188.4" x2="82" y2="354" stroke="#8a8a8a" stroke-width="0.6"/>
<line x1="118.6" y1="188.4" x2="118.6" y2="354" stroke="#8a8a8a" stroke-width="0.6"/>
<text x="227.1" y="151.9" font-weight="bold" font-size="10.8" fill="#000">D</text>
<text x="290.8" y="157" stroke="#1a1a1a" stroke-width="0.18" text-anchor="middle">NIK Signature</text>
<g stroke="#3a2a2a" stroke-opacity="0.28" stroke-width="0.45">
<rect x="247.1" y="161.2" width="7.09" height="4.9" fill="#93d02c"/>
<rect x="254.19" y="161.2" width="7.09" height="4.9" fill="#93d02c"/>
<rect x="261.28" y="161.2" width="7.09" height="4.9" fill="#93d02c"/>
<rect x="268.37" y="161.2" width="7.09" height="4.9" fill="#3cbd2e"/>
<rect x="275.46" y="161.2" width="7.09" height="4.9" fill="#3cbd2e"/>
<rect x="282.55" y="161.2" width="7.09" height="4.9" fill="#3cbd2e"/>
<rect x="289.64" y="161.2" width="7.09" height="4.9" fill="#f04a5c"/>
<rect x="296.73" y="161.2" width="7.09" height="4.9" fill="#f04a5c"/>
<rect x="303.82" y="161.2" width="7.09" height="4.9" fill="#f04a5c"/>
<rect x="310.91" y="161.2" width="7.09" height="4.9" fill="#ae3d5e"/>
<rect x="318" y="161.2" width="7.09" height="4.9" fill="#ae3d5e"/>
<rect x="325.09" y="161.2" width="7.09" height="4.9" fill="#ae3d5e"/>
<rect x="247.1" y="167.3" width="7.09" height="7.14" fill="#eabeba"/>
<rect x="254.19" y="167.3" width="7.09" height="7.14" fill="#db8a81"/>
<rect x="261.28" y="167.3" width="7.09" height="7.14" fill="#e09b94"/>
<rect x="268.37" y="167.3" width="7.09" height="7.14" fill="#eabeba"/>
<rect x="275.46" y="167.3" width="7.09" height="7.14" fill="#db8a81"/>
<rect x="282.55" y="167.3" width="7.09" height="7.14" fill="#eabeba"/>
<rect x="289.64" y="167.3" width="7.09" height="7.14" fill="#8daae1"/>
<rect x="296.73" y="167.3" width="7.09" height="7.14" fill="#d1dcf1"/>
<rect x="303.82" y="167.3" width="7.09" height="7.14" fill="#a8bee7"/>
<rect x="310.91" y="167.3" width="7.09" height="7.14" fill="#7b9ddc"/>
<rect x="318" y="167.3" width="7.09" height="7.14" fill="#8daae1"/>
<rect x="325.09" y="167.3" width="7.09" height="7.14" fill="#8daae1"/>
<rect x="247.1" y="174.45" width="7.09" height="7.14" fill="#f4e0de"/>
<rect x="254.19" y="174.45" width="7.09" height="7.14" fill="#f1d5d2"/>
<rect x="261.28" y="174.45" width="7.09" height="7.14" fill="#e09b94"/>
<rect x="268.37" y="174.45" width="7.09" height="7.14" fill="#de928a"/>
<rect x="275.46" y="174.45" width="7.09" height="7.14" fill="#e3a49d"/>
<rect x="282.55" y="174.45" width="7.09" height="7.14" fill="#d98278"/>
<rect x="289.64" y="174.45" width="7.09" height="7.14" fill="#96b1e3"/>
<rect x="296.73" y="174.45" width="7.09" height="7.14" fill="#8daae1"/>
<rect x="303.82" y="174.45" width="7.09" height="7.14" fill="#b2c5e9"/>
<rect x="310.91" y="174.45" width="7.09" height="7.14" fill="#8daae1"/>
<rect x="318" y="174.45" width="7.09" height="7.14" fill="#9fb7e5"/>
<rect x="325.09" y="174.45" width="7.09" height="7.14" fill="#8daae1"/>
<rect x="247.1" y="181.59" width="7.09" height="7.14" fill="#e5ada6"/>
<rect x="254.19" y="181.59" width="7.09" height="7.14" fill="#eabeba"/>
<rect x="261.28" y="181.59" width="7.09" height="7.14" fill="#edc8c4"/>
<rect x="268.37" y="181.59" width="7.09" height="7.14" fill="#e8b5b0"/>
<rect x="275.46" y="181.59" width="7.09" height="7.14" fill="#edc8c4"/>
<rect x="282.55" y="181.59" width="7.09" height="7.14" fill="#e5ada6"/>
<rect x="289.64" y="181.59" width="7.09" height="7.14" fill="#d8e1f3"/>
<rect x="296.73" y="181.59" width="7.09" height="7.14" fill="#f7e9e7"/>
<rect x="303.82" y="181.59" width="7.09" height="7.14" fill="#f3dbd8"/>
<rect x="310.91" y="181.59" width="7.09" height="7.14" fill="#527fd3"/>
<rect x="318" y="181.59" width="7.09" height="7.14" fill="#6a91d8"/>
<rect x="325.09" y="181.59" width="7.09" height="7.14" fill="#7b9ddc"/>
<rect x="247.1" y="188.74" width="7.09" height="7.14" fill="#f3dbd8"/>
<rect x="254.19" y="188.74" width="7.09" height="7.14" fill="#eabeba"/>
<rect x="261.28" y="188.74" width="7.09" height="7.14" fill="#edc8c4"/>
<rect x="268.37" y="188.74" width="7.09" height="7.14" fill="#db8a81"/>
<rect x="275.46" y="188.74" width="7.09" height="7.14" fill="#d6796f"/>
<rect x="282.55" y="188.74" width="7.09" height="7.14" fill="#e3a49d"/>
<rect x="289.64" y="188.74" width="7.09" height="7.14" fill="#84a4de"/>
<rect x="296.73" y="188.74" width="7.09" height="7.14" fill="#b2c5e9"/>
<rect x="303.82" y="188.74" width="7.09" height="7.14" fill="#9fb7e5"/>
<rect x="310.91" y="188.74" width="7.09" height="7.14" fill="#8daae1"/>
<rect x="318" y="188.74" width="7.09" height="7.14" fill="#9fb7e5"/>
<rect x="325.09" y="188.74" width="7.09" height="7.14" fill="#b2c5e9"/>
<rect x="247.1" y="195.88" width="7.09" height="7.14" fill="#eabeba"/>
<rect x="254.19" y="195.88" width="7.09" height="7.14" fill="#f0d1ce"/>
<rect x="261.28" y="195.88" width="7.09" height="7.14" fill="#f0d1ce"/>
<rect x="268.37" y="195.88" width="7.09" height="7.14" fill="#e3a49d"/>
<rect x="275.46" y="195.88" width="7.09" height="7.14" fill="#e8b5b0"/>
<rect x="282.55" y="195.88" width="7.09" height="7.14" fill="#e5ada6"/>
<rect x="289.64" y="195.88" width="7.09" height="7.14" fill="#5a85d5"/>
<rect x="296.73" y="195.88" width="7.09" height="7.14" fill="#5a85d5"/>
<rect x="303.82" y="195.88" width="7.09" height="7.14" fill="#5a85d5"/>
<rect x="310.91" y="195.88" width="7.09" height="7.14" fill="#f5e4e3"/>
<rect x="318" y="195.88" width="7.09" height="7.14" fill="#faf6f5"/>
<rect x="325.09" y="195.88" width="7.09" height="7.14" fill="#f5e4e3"/>
<rect x="247.1" y="203.03" width="7.09" height="7.14" fill="#d47166"/>
<rect x="254.19" y="203.03" width="7.09" height="7.14" fill="#e3a49d"/>
<rect x="261.28" y="203.03" width="7.09" height="7.14" fill="#d1695d"/>
<rect x="268.37" y="203.03" width="7.09" height="7.14" fill="#eaeef7"/>
<rect x="275.46" y="203.03" width="7.09" height="7.14" fill="#d1dcf1"/>
<rect x="282.55" y="203.03" width="7.09" height="7.14" fill="#edc8c4"/>
<rect x="289.64" y="203.03" width="7.09" height="7.14" fill="#8daae1"/>
<rect x="296.73" y="203.03" width="7.09" height="7.14" fill="#8daae1"/>
<rect x="303.82" y="203.03" width="7.09" height="7.14" fill="#7397da"/>
<rect x="310.91" y="203.03" width="7.09" height="7.14" fill="#b2c5e9"/>
<rect x="318" y="203.03" width="7.09" height="7.14" fill="#b2c5e9"/>
<rect x="325.09" y="203.03" width="7.09" height="7.14" fill="#f7e9e7"/>
<rect x="247.1" y="210.17" width="7.09" height="7.14" fill="#a8bee7"/>
<rect x="254.19" y="210.17" width="7.09" height="7.14" fill="#f5e4e3"/>
<rect x="261.28" y="210.17" width="7.09" height="7.14" fill="#f7e9e7"/>
<rect x="268.37" y="210.17" width="7.09" height="7.14" fill="#b2c5e9"/>
<rect x="275.46" y="210.17" width="7.09" height="7.14" fill="#7b9ddc"/>
<rect x="282.55" y="210.17" width="7.09" height="7.14" fill="#7397da"/>
<rect x="289.64" y="210.17" width="7.09" height="7.14" fill="#d98278"/>
<rect x="296.73" y="210.17" width="7.09" height="7.14" fill="#cd584b"/>
<rect x="303.82" y="210.17" width="7.09" height="7.14" fill="#e3a49d"/>
<rect x="310.91" y="210.17" width="7.09" height="7.14" fill="#f7e9e7"/>
<rect x="318" y="210.17" width="7.09" height="7.14" fill="#bcccec"/>
<rect x="325.09" y="210.17" width="7.09" height="7.14" fill="#bcccec"/>
<rect x="247.1" y="217.31" width="7.09" height="7.14" fill="#f5e4e3"/>
<rect x="254.19" y="217.31" width="7.09" height="7.14" fill="#f0d1ce"/>
<rect x="261.28" y="217.31" width="7.09" height="7.14" fill="#f7e9e7"/>
<rect x="268.37" y="217.31" width="7.09" height="7.14" fill="#db8a81"/>
<rect x="275.46" y="217.31" width="7.09" height="7.14" fill="#db8a81"/>
<rect x="282.55" y="217.31" width="7.09" height="7.14" fill="#d98278"/>
<rect x="289.64" y="217.31" width="7.09" height="7.14" fill="#7b9ddc"/>
<rect x="296.73" y="217.31" width="7.09" height="7.14" fill="#84a4de"/>
<rect x="303.82" y="217.31" width="7.09" height="7.14" fill="#6a91d8"/>
<rect x="310.91" y="217.31" width="7.09" height="7.14" fill="#a8bee7"/>
<rect x="318" y="217.31" width="7.09" height="7.14" fill="#d1dcf1"/>
<rect x="325.09" y="217.31" width="7.09" height="7.14" fill="#b2c5e9"/>
<rect x="247.1" y="224.46" width="7.09" height="7.14" fill="#e5ada6"/>
<rect x="254.19" y="224.46" width="7.09" height="7.14" fill="#e5ada6"/>
<rect x="261.28" y="224.46" width="7.09" height="7.14" fill="#e8b5b0"/>
<rect x="268.37" y="224.46" width="7.09" height="7.14" fill="#e8b5b0"/>
<rect x="275.46" y="224.46" width="7.09" height="7.14" fill="#e8b5b0"/>
<rect x="282.55" y="224.46" width="7.09" height="7.14" fill="#f3dbd8"/>
<rect x="289.64" y="224.46" width="7.09" height="7.14" fill="#628bd6"/>
<rect x="296.73" y="224.46" width="7.09" height="7.14" fill="#6a91d8"/>
<rect x="303.82" y="224.46" width="7.09" height="7.14" fill="#628bd6"/>
<rect x="310.91" y="224.46" width="7.09" height="7.14" fill="#eaeef7"/>
<rect x="318" y="224.46" width="7.09" height="7.14" fill="#dde5f4"/>
<rect x="325.09" y="224.46" width="7.09" height="7.14" fill="#c6d4ee"/>
<rect x="247.1" y="231.61" width="7.09" height="7.14" fill="#f8efee"/>
<rect x="254.19" y="231.61" width="7.09" height="7.14" fill="#faf3f3"/>
<rect x="261.28" y="231.61" width="7.09" height="7.14" fill="#f8efee"/>
<rect x="268.37" y="231.61" width="7.09" height="7.14" fill="#d47166"/>
<rect x="275.46" y="231.61" width="7.09" height="7.14" fill="#d6796f"/>
<rect x="282.55" y="231.61" width="7.09" height="7.14" fill="#d98278"/>
<rect x="289.64" y="231.61" width="7.09" height="7.14" fill="#8daae1"/>
<rect x="296.73" y="231.61" width="7.09" height="7.14" fill="#96b1e3"/>
<rect x="303.82" y="231.61" width="7.09" height="7.14" fill="#96b1e3"/>
<rect x="310.91" y="231.61" width="7.09" height="7.14" fill="#a8bee7"/>
<rect x="318" y="231.61" width="7.09" height="7.14" fill="#9fb7e5"/>
<rect x="325.09" y="231.61" width="7.09" height="7.14" fill="#bcccec"/>
<rect x="247.1" y="238.75" width="7.09" height="7.14" fill="#e5ada6"/>
<rect x="254.19" y="238.75" width="7.09" height="7.14" fill="#e3a49d"/>
<rect x="261.28" y="238.75" width="7.09" height="7.14" fill="#e09b94"/>
<rect x="268.37" y="238.75" width="7.09" height="7.14" fill="#e8b5b0"/>
<rect x="275.46" y="238.75" width="7.09" height="7.14" fill="#e09b94"/>
<rect x="282.55" y="238.75" width="7.09" height="7.14" fill="#eabeba"/>
<rect x="289.64" y="238.75" width="7.09" height="7.14" fill="#7b9ddc"/>
<rect x="296.73" y="238.75" width="7.09" height="7.14" fill="#84a4de"/>
<rect x="303.82" y="238.75" width="7.09" height="7.14" fill="#8daae1"/>
<rect x="310.91" y="238.75" width="7.09" height="7.14" fill="#b2c5e9"/>
<rect x="318" y="238.75" width="7.09" height="7.14" fill="#a8bee7"/>
<rect x="325.09" y="238.75" width="7.09" height="7.14" fill="#9fb7e5"/>
<rect x="247.1" y="245.9" width="7.09" height="7.14" fill="#e09b94"/>
<rect x="254.19" y="245.9" width="7.09" height="7.14" fill="#e09b94"/>
<rect x="261.28" y="245.9" width="7.09" height="7.14" fill="#e3a49d"/>
<rect x="268.37" y="245.9" width="7.09" height="7.14" fill="#e3a49d"/>
<rect x="275.46" y="245.9" width="7.09" height="7.14" fill="#de928a"/>
<rect x="282.55" y="245.9" width="7.09" height="7.14" fill="#f3dbd8"/>
<rect x="289.64" y="245.9" width="7.09" height="7.14" fill="#8daae1"/>
<rect x="296.73" y="245.9" width="7.09" height="7.14" fill="#96b1e3"/>
<rect x="303.82" y="245.9" width="7.09" height="7.14" fill="#84a4de"/>
<rect x="310.91" y="245.9" width="7.09" height="7.14" fill="#9fb7e5"/>
<rect x="318" y="245.9" width="7.09" height="7.14" fill="#a8bee7"/>
<rect x="325.09" y="245.9" width="7.09" height="7.14" fill="#96b1e3"/>
<rect x="247.1" y="253.04" width="7.09" height="7.14" fill="#e5ada6"/>
<rect x="254.19" y="253.04" width="7.09" height="7.14" fill="#f3dbd8"/>
<rect x="261.28" y="253.04" width="7.09" height="7.14" fill="#e8b5b0"/>
<rect x="268.37" y="253.04" width="7.09" height="7.14" fill="#e5ada6"/>
<rect x="275.46" y="253.04" width="7.09" height="7.14" fill="#d47166"/>
<rect x="282.55" y="253.04" width="7.09" height="7.14" fill="#e5ada6"/>
<rect x="289.64" y="253.04" width="7.09" height="7.14" fill="#7b9ddc"/>
<rect x="296.73" y="253.04" width="7.09" height="7.14" fill="#dde5f4"/>
<rect x="303.82" y="253.04" width="7.09" height="7.14" fill="#a8bee7"/>
<rect x="310.91" y="253.04" width="7.09" height="7.14" fill="#9fb7e5"/>
<rect x="318" y="253.04" width="7.09" height="7.14" fill="#a8bee7"/>
<rect x="325.09" y="253.04" width="7.09" height="7.14" fill="#7397da"/>
<rect x="247.1" y="260.19" width="7.09" height="7.14" fill="#e3a49d"/>
<rect x="254.19" y="260.19" width="7.09" height="7.14" fill="#e8b5b0"/>
<rect x="261.28" y="260.19" width="7.09" height="7.14" fill="#e5ada6"/>
<rect x="268.37" y="260.19" width="7.09" height="7.14" fill="#e5ada6"/>
<rect x="275.46" y="260.19" width="7.09" height="7.14" fill="#e09b94"/>
<rect x="282.55" y="260.19" width="7.09" height="7.14" fill="#e3a49d"/>
<rect x="289.64" y="260.19" width="7.09" height="7.14" fill="#96b1e3"/>
<rect x="296.73" y="260.19" width="7.09" height="7.14" fill="#c6d4ee"/>
<rect x="303.82" y="260.19" width="7.09" height="7.14" fill="#b2c5e9"/>
<rect x="310.91" y="260.19" width="7.09" height="7.14" fill="#628bd6"/>
<rect x="318" y="260.19" width="7.09" height="7.14" fill="#8daae1"/>
<rect x="325.09" y="260.19" width="7.09" height="7.14" fill="#a8bee7"/>
<rect x="247.1" y="267.33" width="7.09" height="7.14" fill="#f0d1ce"/>
<rect x="254.19" y="267.33" width="7.09" height="7.14" fill="#f5e4e3"/>
<rect x="261.28" y="267.33" width="7.09" height="7.14" fill="#f0d1ce"/>
<rect x="268.37" y="267.33" width="7.09" height="7.14" fill="#d6796f"/>
<rect x="275.46" y="267.33" width="7.09" height="7.14" fill="#de928a"/>
<rect x="282.55" y="267.33" width="7.09" height="7.14" fill="#db8a81"/>
<rect x="289.64" y="267.33" width="7.09" height="7.14" fill="#8daae1"/>
<rect x="296.73" y="267.33" width="7.09" height="7.14" fill="#96b1e3"/>
<rect x="303.82" y="267.33" width="7.09" height="7.14" fill="#8daae1"/>
<rect x="310.91" y="267.33" width="7.09" height="7.14" fill="#a8bee7"/>
<rect x="318" y="267.33" width="7.09" height="7.14" fill="#b2c5e9"/>
<rect x="325.09" y="267.33" width="7.09" height="7.14" fill="#b2c5e9"/>
<rect x="247.1" y="274.48" width="7.09" height="7.14" fill="#e3a49d"/>
<rect x="254.19" y="274.48" width="7.09" height="7.14" fill="#de928a"/>
<rect x="261.28" y="274.48" width="7.09" height="7.14" fill="#e5ada6"/>
<rect x="268.37" y="274.48" width="7.09" height="7.14" fill="#e8b5b0"/>
<rect x="275.46" y="274.48" width="7.09" height="7.14" fill="#edc8c4"/>
<rect x="282.55" y="274.48" width="7.09" height="7.14" fill="#e8b5b0"/>
<rect x="289.64" y="274.48" width="7.09" height="7.14" fill="#b2c5e9"/>
<rect x="296.73" y="274.48" width="7.09" height="7.14" fill="#f0f2f8"/>
<rect x="303.82" y="274.48" width="7.09" height="7.14" fill="#9fb7e5"/>
<rect x="310.91" y="274.48" width="7.09" height="7.14" fill="#96b1e3"/>
<rect x="318" y="274.48" width="7.09" height="7.14" fill="#9fb7e5"/>
<rect x="325.09" y="274.48" width="7.09" height="7.14" fill="#4a79d1"/>
<rect x="247.1" y="281.62" width="7.09" height="7.14" fill="#edc8c4"/>
<rect x="254.19" y="281.62" width="7.09" height="7.14" fill="#f3dbd8"/>
<rect x="261.28" y="281.62" width="7.09" height="7.14" fill="#f3dbd8"/>
<rect x="268.37" y="281.62" width="7.09" height="7.14" fill="#db8a81"/>
<rect x="275.46" y="281.62" width="7.09" height="7.14" fill="#e5ada6"/>
<rect x="282.55" y="281.62" width="7.09" height="7.14" fill="#e09b94"/>
<rect x="289.64" y="281.62" width="7.09" height="7.14" fill="#fcfbfb"/>
<rect x="296.73" y="281.62" width="7.09" height="7.14" fill="#d8e1f3"/>
<rect x="303.82" y="281.62" width="7.09" height="7.14" fill="#f3dbd8"/>
<rect x="310.91" y="281.62" width="7.09" height="7.14" fill="#5a85d5"/>
<rect x="318" y="281.62" width="7.09" height="7.14" fill="#6a91d8"/>
<rect x="325.09" y="281.62" width="7.09" height="7.14" fill="#84a4de"/>
<rect x="247.1" y="288.76" width="7.09" height="7.14" fill="#b2c5e9"/>
<rect x="254.19" y="288.76" width="7.09" height="7.14" fill="#8daae1"/>
<rect x="261.28" y="288.76" width="7.09" height="7.14" fill="#a8bee7"/>
<rect x="268.37" y="288.76" width="7.09" height="7.14" fill="#d6796f"/>
<rect x="275.46" y="288.76" width="7.09" height="7.14" fill="#db8a81"/>
<rect x="282.55" y="288.76" width="7.09" height="7.14" fill="#d1695d"/>
<rect x="289.64" y="288.76" width="7.09" height="7.14" fill="#8daae1"/>
<rect x="296.73" y="288.76" width="7.09" height="7.14" fill="#9fb7e5"/>
<rect x="303.82" y="288.76" width="7.09" height="7.14" fill="#fcfbfb"/>
<rect x="310.91" y="288.76" width="7.09" height="7.14" fill="#c6d4ee"/>
<rect x="318" y="288.76" width="7.09" height="7.14" fill="#d1dcf1"/>
<rect x="325.09" y="288.76" width="7.09" height="7.14" fill="#f7e9e7"/>
<rect x="247.1" y="295.91" width="7.09" height="7.14" fill="#96b1e3"/>
<rect x="254.19" y="295.91" width="7.09" height="7.14" fill="#9fb7e5"/>
<rect x="261.28" y="295.91" width="7.09" height="7.14" fill="#b2c5e9"/>
<rect x="268.37" y="295.91" width="7.09" height="7.14" fill="#d6796f"/>
<rect x="275.46" y="295.91" width="7.09" height="7.14" fill="#cf6054"/>
<rect x="282.55" y="295.91" width="7.09" height="7.14" fill="#e09b94"/>
<rect x="289.64" y="295.91" width="7.09" height="7.14" fill="#96b1e3"/>
<rect x="296.73" y="295.91" width="7.09" height="7.14" fill="#96b1e3"/>
<rect x="303.82" y="295.91" width="7.09" height="7.14" fill="#8daae1"/>
<rect x="310.91" y="295.91" width="7.09" height="7.14" fill="#f5e4e3"/>
<rect x="318" y="295.91" width="7.09" height="7.14" fill="#f5e4e3"/>
<rect x="325.09" y="295.91" width="7.09" height="7.14" fill="#f4e0de"/>
<rect x="247.1" y="303.06" width="7.09" height="7.14" fill="#cd584b"/>
<rect x="254.19" y="303.06" width="7.09" height="7.14" fill="#f8efee"/>
<rect x="261.28" y="303.06" width="7.09" height="7.14" fill="#eabeba"/>
<rect x="268.37" y="303.06" width="7.09" height="7.14" fill="#628bd6"/>
<rect x="275.46" y="303.06" width="7.09" height="7.14" fill="#d1dcf1"/>
<rect x="282.55" y="303.06" width="7.09" height="7.14" fill="#c6d4ee"/>
<rect x="289.64" y="303.06" width="7.09" height="7.14" fill="#c6d4ee"/>
<rect x="296.73" y="303.06" width="7.09" height="7.14" fill="#e09b94"/>
<rect x="303.82" y="303.06" width="7.09" height="7.14" fill="#e3a49d"/>
<rect x="310.91" y="303.06" width="7.09" height="7.14" fill="#c6d4ee"/>
<rect x="318" y="303.06" width="7.09" height="7.14" fill="#9fb7e5"/>
<rect x="325.09" y="303.06" width="7.09" height="7.14" fill="#7b9ddc"/>
<rect x="247.1" y="310.2" width="7.09" height="7.14" fill="#527fd3"/>
<rect x="254.19" y="310.2" width="7.09" height="7.14" fill="#8daae1"/>
<rect x="261.28" y="310.2" width="7.09" height="7.14" fill="#eabeba"/>
<rect x="268.37" y="310.2" width="7.09" height="7.14" fill="#f0f2f8"/>
<rect x="275.46" y="310.2" width="7.09" height="7.14" fill="#db8a81"/>
<rect x="282.55" y="310.2" width="7.09" height="7.14" fill="#7397da"/>
<rect x="289.64" y="310.2" width="7.09" height="7.14" fill="#f4f5f9"/>
<rect x="296.73" y="310.2" width="7.09" height="7.14" fill="#c6d4ee"/>
<rect x="303.82" y="310.2" width="7.09" height="7.14" fill="#f3dbd8"/>
<rect x="310.91" y="310.2" width="7.09" height="7.14" fill="#dde5f4"/>
<rect x="318" y="310.2" width="7.09" height="7.14" fill="#d6796f"/>
<rect x="325.09" y="310.2" width="7.09" height="7.14" fill="#e09b94"/>
<rect x="247.1" y="317.35" width="7.09" height="7.14" fill="#eaeef7"/>
<rect x="254.19" y="317.35" width="7.09" height="7.14" fill="#f4f5f9"/>
<rect x="261.28" y="317.35" width="7.09" height="7.14" fill="#a8bee7"/>
<rect x="268.37" y="317.35" width="7.09" height="7.14" fill="#e3a49d"/>
<rect x="275.46" y="317.35" width="7.09" height="7.14" fill="#eabeba"/>
<rect x="282.55" y="317.35" width="7.09" height="7.14" fill="#eabeba"/>
<rect x="289.64" y="317.35" width="7.09" height="7.14" fill="#f5e4e3"/>
<rect x="296.73" y="317.35" width="7.09" height="7.14" fill="#f5e4e3"/>
<rect x="303.82" y="317.35" width="7.09" height="7.14" fill="#cf6054"/>
<rect x="310.91" y="317.35" width="7.09" height="7.14" fill="#7b9ddc"/>
<rect x="318" y="317.35" width="7.09" height="7.14" fill="#527fd3"/>
<rect x="325.09" y="317.35" width="7.09" height="7.14" fill="#8daae1"/>
</g>
<text x="333.9" y="173.4" stroke="#1a1a1a" stroke-width="0.18">MAP3K14</text>
<text x="333.9" y="180.5" stroke="#1a1a1a" stroke-width="0.18">TRAF3IP3</text>
<text x="333.9" y="187.6" stroke="#1a1a1a" stroke-width="0.18">CD74</text>
<text x="333.9" y="194.7" stroke="#1a1a1a" stroke-width="0.18">NFE2L3</text>
<text x="333.9" y="201.8" stroke="#1a1a1a" stroke-width="0.18">LMCD1</text>
<text x="333.9" y="208.9" stroke="#1a1a1a" stroke-width="0.18">CELSR1</text>
<text x="333.9" y="216" stroke="#1a1a1a" stroke-width="0.18">EPB41L4B</text>
<text x="333.9" y="223.1" stroke="#1a1a1a" stroke-width="0.18">IL21R</text>
<text x="333.9" y="230.2" stroke="#1a1a1a" stroke-width="0.18">IL27RA</text>
<text x="333.9" y="237.3" stroke="#1a1a1a" stroke-width="0.18">HVCN1</text>
<text x="333.9" y="244.4" stroke="#1a1a1a" stroke-width="0.18">MGAT3</text>
<text x="333.9" y="251.5" stroke="#1a1a1a" stroke-width="0.18">CABLES1</text>
<text x="333.9" y="258.6" stroke="#1a1a1a" stroke-width="0.18">FLNB</text>
<text x="333.9" y="265.7" stroke="#1a1a1a" stroke-width="0.18">ETV6</text>
<text x="333.9" y="272.8" stroke="#1a1a1a" stroke-width="0.18">RASGRP3</text>
<text x="333.9" y="279.9" stroke="#1a1a1a" stroke-width="0.18">CCDC28B</text>
<text x="333.9" y="287" stroke="#1a1a1a" stroke-width="0.18">HLA-DRB1</text>
<text x="333.9" y="294.1" stroke="#1a1a1a" stroke-width="0.18">HLA-DQA1</text>
<text x="333.9" y="301.2" stroke="#1a1a1a" stroke-width="0.18">ANXA4</text>
<text x="333.9" y="308.3" stroke="#1a1a1a" stroke-width="0.18">L1CAM</text>
<text x="333.9" y="315.4" stroke="#1a1a1a" stroke-width="0.18">CHUK</text>
<text x="333.9" y="322.5" stroke="#1a1a1a" stroke-width="0.18">C17orf49</text>
<text x="380.6" y="167.6" stroke="#1a1a1a" stroke-width="0.18">group</text>
<rect x="380.7" y="170.2" width="7.1" height="6.8" fill="#ae3d5e"/>
<text x="388.6" y="176.1" stroke="#1a1a1a" stroke-width="0.18">AU24</text>
<rect x="380.7" y="177" width="7.1" height="6.8" fill="#f04a5c"/>
<text x="388.6" y="182.9" stroke="#1a1a1a" stroke-width="0.18">AU8</text>
<rect x="380.7" y="183.8" width="7.1" height="6.8" fill="#2fa02f"/>
<text x="388.6" y="189.7" stroke="#1a1a1a" stroke-width="0.18">CT24</text>
<rect x="380.7" y="190.6" width="7.1" height="6.8" fill="#93d02c"/>
<text x="388.6" y="196.5" stroke="#1a1a1a" stroke-width="0.18">CT8</text>
<rect x="383.7" y="212.3" width="4.1" height="70.2" fill="url(#cbA)"/>
<text x="389.6" y="215.3" stroke="#1a1a1a" stroke-width="0.18">2</text>
<text x="389.6" y="232.4" stroke="#1a1a1a" stroke-width="0.18">1</text>
<text x="389.6" y="249.5" stroke="#1a1a1a" stroke-width="0.18">0</text>
<text x="389.6" y="266.5" stroke="#1a1a1a" stroke-width="0.18">−1</text>
<text x="389.6" y="284" stroke="#1a1a1a" stroke-width="0.18">−2</text>
<text x="440.3" y="12" font-weight="bold" font-size="10.8" fill="#000">E</text>
<text x="522.7" y="6.6" stroke="#1a1a1a" stroke-width="0.18" text-anchor="middle">SOX11-positive/</text>
<text x="521.5" y="14.6" stroke="#1a1a1a" stroke-width="0.18" text-anchor="middle">SMARCA4-high</text>
<text x="590" y="6.6" stroke="#1a1a1a" stroke-width="0.18" text-anchor="middle">SOX11-negative/</text>
<text x="589.6" y="14.6" stroke="#1a1a1a" stroke-width="0.18" text-anchor="middle">SMARCA4-low</text>
<line x1="476" y1="16.5" x2="564" y2="16.5" stroke="#cccccc" stroke-width="0.7"/>
<line x1="566.5" y1="16.5" x2="611" y2="16.5" stroke="#cccccc" stroke-width="0.7"/>
<text x="497.2" y="25" stroke="#1a1a1a" stroke-width="0.18" text-anchor="middle">IR</text>
<text x="546.4" y="25" stroke="#1a1a1a" stroke-width="0.18" text-anchor="middle">IS</text>
<text x="591" y="25" stroke="#1a1a1a" stroke-width="0.18" text-anchor="middle">IR</text>
<line x1="476.4" y1="43.1" x2="476.4" y2="108.2" stroke="#999" stroke-width="0.6"/>
<line x1="476.4" y1="108.2" x2="609.9" y2="108.2" stroke="#999" stroke-width="0.6"/>
<line x1="473" y1="108.2" x2="476.4" y2="108.2" stroke="#999" stroke-width="0.6"/>
<text x="471.8" y="110.7" stroke="#1a1a1a" stroke-width="0.18" text-anchor="end">0</text>
<line x1="473" y1="96.86" x2="476.4" y2="96.86" stroke="#999" stroke-width="0.6"/>
<text x="471.8" y="99.36" stroke="#1a1a1a" stroke-width="0.18" text-anchor="end">20</text>
<line x1="473" y1="85.52" x2="476.4" y2="85.52" stroke="#999" stroke-width="0.6"/>
<text x="471.8" y="88.02" stroke="#1a1a1a" stroke-width="0.18" text-anchor="end">40</text>
<line x1="473" y1="74.18" x2="476.4" y2="74.18" stroke="#999" stroke-width="0.6"/>
<text x="471.8" y="76.68" stroke="#1a1a1a" stroke-width="0.18" text-anchor="end">60</text>
<line x1="473" y1="62.84" x2="476.4" y2="62.84" stroke="#999" stroke-width="0.6"/>
<text x="471.8" y="65.34" stroke="#1a1a1a" stroke-width="0.18" text-anchor="end">80</text>
<line x1="473" y1="51.5" x2="476.4" y2="51.5" stroke="#999" stroke-width="0.6"/>
<text x="471.8" y="54" stroke="#1a1a1a" stroke-width="0.18" text-anchor="end">100</text>
<text transform="translate(457.8,77.9) rotate(-90)" stroke="#1a1a1a" stroke-width="0.18" text-anchor="middle">Cell proliferation (%)</text>
<line x1="518" y1="45" x2="518" y2="108.2" stroke="#e2e2e2" stroke-width="0.6"/>
<line x1="567.2" y1="45" x2="567.2" y2="108.2" stroke="#e2e2e2" stroke-width="0.6"/>
<rect x="479" y="54.05" width="6.6" height="54.15" fill="#e6e6e6" stroke="#e0e0e0" stroke-width="0.5"/>
<rect x="486.75" y="93.46" width="6.6" height="14.74" fill="#f2b9be" stroke="#eeaab0" stroke-width="0.5"/>
<rect x="494.5" y="51.5" width="6.6" height="56.7" fill="#bcdcf2" stroke="#9ccbe8" stroke-width="0.5"/>
<rect x="502.25" y="100.26" width="6.6" height="7.94" fill="#c4727a" stroke="#bb6870" stroke-width="0.5"/>
<line x1="493.6" y1="108.2" x2="493.6" y2="110.2" stroke="#999" stroke-width="0.6"/>
<circle cx="480.3" cy="51.5" r="1.15" fill="#111"/>
<circle cx="482.4" cy="51.5" r="1.15" fill="#111"/>
<circle cx="484.5" cy="51.5" r="1.15" fill="#111"/>
<rect x="528.3" y="54.05" width="6.6" height="54.15" fill="#e6e6e6" stroke="#e0e0e0" stroke-width="0.5"/>
<rect x="536.05" y="93.46" width="6.6" height="14.74" fill="#f2b9be" stroke="#eeaab0" stroke-width="0.5"/>
<rect x="543.8" y="61.14" width="6.6" height="47.06" fill="#bcdcf2" stroke="#9ccbe8" stroke-width="0.5"/>
<rect x="551.55" y="100.26" width="6.6" height="7.94" fill="#c4727a" stroke="#bb6870" stroke-width="0.5"/>
<line x1="542.9" y1="108.2" x2="542.9" y2="110.2" stroke="#999" stroke-width="0.6"/>
<circle cx="529.6" cy="51.5" r="1.15" fill="#111"/>
<circle cx="531.7" cy="51.5" r="1.15" fill="#111"/>
<circle cx="533.8" cy="51.5" r="1.15" fill="#111"/>
<rect x="578.1" y="53.2" width="6.6" height="55" fill="#e6e6e6" stroke="#e0e0e0" stroke-width="0.5"/>
<rect x="585.85" y="56.04" width="6.6" height="52.16" fill="#f2b9be" stroke="#eeaab0" stroke-width="0.5"/>
<rect x="593.6" y="46.96" width="6.6" height="61.24" fill="#bcdcf2" stroke="#9ccbe8" stroke-width="0.5"/>
<rect x="601.35" y="62.84" width="6.6" height="45.36" fill="#c4727a" stroke="#bb6870" stroke-width="0.5"/>
<line x1="592.7" y1="108.2" x2="592.7" y2="110.2" stroke="#999" stroke-width="0.6"/>
<circle cx="579.4" cy="51.5" r="1.15" fill="#111"/>
<circle cx="581.5" cy="51.5" r="1.15" fill="#111"/>
<circle cx="583.6" cy="51.5" r="1.15" fill="#111"/>
<circle cx="489.45" cy="92.49" r="1.05" fill="#e8728a"/>
<circle cx="490.65" cy="93.51" r="1.05" fill="#e8728a"/>
<circle cx="491.25" cy="94.31" r="1.05" fill="#e8728a"/>
<circle cx="497.8" cy="48.78" r="1.05" fill="#2a64b0"/>
<circle cx="497.8" cy="51.5" r="1.05" fill="#2a64b0"/>
<circle cx="497.8" cy="53.48" r="1.05" fill="#2a64b0"/>
<circle cx="505.95" cy="98.79" r="1.05" fill="#b2345a"/>
<circle cx="505.05" cy="99.81" r="1.05" fill="#b2345a"/>
<circle cx="506.75" cy="100.21" r="1.05" fill="#b2345a"/>
<circle cx="539.35" cy="91.53" r="1.05" fill="#e8728a"/>
<circle cx="539.35" cy="93.29" r="1.05" fill="#e8728a"/>
<circle cx="539.35" cy="94.71" r="1.05" fill="#e8728a"/>
<circle cx="547.1" cy="57.28" r="1.05" fill="#2a64b0"/>
<circle cx="545.8" cy="63.52" r="1.05" fill="#2a64b0"/>
<circle cx="548.3" cy="62.22" r="1.05" fill="#2a64b0"/>
<circle cx="554.85" cy="99.35" r="1.05" fill="#b2345a"/>
<circle cx="556.45" cy="100.21" r="1.05" fill="#b2345a"/>
<circle cx="553.65" cy="100.21" r="1.05" fill="#b2345a"/>
<circle cx="589.15" cy="52.29" r="1.05" fill="#e8728a"/>
<circle cx="589.15" cy="56.49" r="1.05" fill="#e8728a"/>
<circle cx="589.45" cy="57.74" r="1.05" fill="#e8728a"/>
<circle cx="596.9" cy="43.39" r="1.05" fill="#2a64b0"/>
<circle cx="596.9" cy="47.59" r="1.05" fill="#2a64b0"/>
<circle cx="596.9" cy="48.78" r="1.05" fill="#2a64b0"/>
<circle cx="604.65" cy="51.78" r="1.05" fill="#b2345a"/>
<circle cx="604.65" cy="61.42" r="1.05" fill="#b2345a"/>
<circle cx="604.35" cy="74.01" r="1.05" fill="#b2345a"/>
<line x1="482.3" y1="41" x2="504.8" y2="41" stroke="#c8c8c8" stroke-width="0.6"/>
<text x="493.55" y="43" stroke="#1a1a1a" stroke-width="0.18" text-anchor="middle">***</text>
<line x1="482.9" y1="47.1" x2="490" y2="47.1" stroke="#eeeeee" stroke-width="0.6"/>
<text x="486.45" y="49.1" stroke="#1a1a1a" stroke-width="0.18" text-anchor="middle">***</text>
<line x1="532.1" y1="34.3" x2="555" y2="34.3" stroke="#c8c8c8" stroke-width="0.6"/>
<text x="543.55" y="36.3" stroke="#1a1a1a" stroke-width="0.18" text-anchor="middle">***</text>
<line x1="532.1" y1="40.9" x2="546.6" y2="40.9" stroke="#c8c8c8" stroke-width="0.6"/>
<text x="539.35" y="42.9" stroke="#1a1a1a" stroke-width="0.18" text-anchor="middle">***</text>
<line x1="532.1" y1="47.1" x2="540" y2="47.1" stroke="#eeeeee" stroke-width="0.6"/>
<text x="536.05" y="49.1" stroke="#1a1a1a" stroke-width="0.18" text-anchor="middle">***</text>
<line x1="579.8" y1="41.4" x2="591.9" y2="41.4" stroke="#c8c8c8" stroke-width="0.6"/>
<text x="585.85" y="43.4" stroke="#1a1a1a" stroke-width="0.18" text-anchor="middle">***</text>
<rect x="623" y="117.8" width="7.9" height="8.1" fill="#e6e6e6"/>
<text x="632.2" y="124.2" stroke="#1a1a1a" stroke-width="0.18" font-size="7.2">Control</text>
<rect x="623" y="125.9" width="7.9" height="8.1" fill="#f2b9be"/>
<text x="632.2" y="132.3" stroke="#1a1a1a" stroke-width="0.18" font-size="7.2">AU-15330</text>
<rect x="623" y="134" width="7.9" height="8.1" fill="#bcdcf2"/>
<text x="632.2" y="140.4" stroke="#1a1a1a" stroke-width="0.18" font-size="7.2">Ibrutinib</text>
<rect x="623" y="142.1" width="7.9" height="8.1" fill="#c4727a"/>
<text x="632.2" y="148.5" stroke="#1a1a1a" stroke-width="0.18" font-size="7.2">AU-15330</text>
<text x="632.2" y="157.8" stroke="#1a1a1a" stroke-width="0.18" font-size="7.2">+ Ibrutinib</text>
<text x="440.6" y="145.1" font-weight="bold" font-size="10.8" fill="#000">F</text>
<line x1="474.4" y1="142" x2="474.4" y2="205.9" stroke="#999" stroke-width="0.6"/>
<line x1="474.4" y1="205.9" x2="609.3" y2="205.9" stroke="#999" stroke-width="0.6"/>
<line x1="472" y1="205.9" x2="474.4" y2="205.9" stroke="#999" stroke-width="0.6"/>
<text x="471" y="208.4" stroke="#1a1a1a" stroke-width="0.18" text-anchor="end">0</text>
<line x1="472" y1="191.72" x2="474.4" y2="191.72" stroke="#999" stroke-width="0.6"/>
<text x="471" y="194.22" stroke="#1a1a1a" stroke-width="0.18" text-anchor="end">20</text>
<line x1="472" y1="177.54" x2="474.4" y2="177.54" stroke="#999" stroke-width="0.6"/>
<text x="471" y="180.04" stroke="#1a1a1a" stroke-width="0.18" text-anchor="end">40</text>
<line x1="472" y1="163.36" x2="474.4" y2="163.36" stroke="#999" stroke-width="0.6"/>
<text x="471" y="165.86" stroke="#1a1a1a" stroke-width="0.18" text-anchor="end">60</text>
<line x1="472" y1="149.18" x2="474.4" y2="149.18" stroke="#999" stroke-width="0.6"/>
<text x="471" y="151.68" stroke="#1a1a1a" stroke-width="0.18" text-anchor="end">80</text>
<text transform="translate(458.5,177.2) rotate(-90)" stroke="#1a1a1a" stroke-width="0.18" text-anchor="middle">Apoptosis (%)</text>
<line x1="516.5" y1="143" x2="516.5" y2="205.9" stroke="#e2e2e2" stroke-width="0.6"/>
<line x1="565.7" y1="143" x2="565.7" y2="205.9" stroke="#e2e2e2" stroke-width="0.6"/>
<rect x="485.85" y="176.83" width="6.4" height="29.07" fill="#f2b9be"/>
<rect x="493.5" y="205.05" width="6.4" height="0.85" fill="#bcdcf2" stroke="#9cc8e8" stroke-width="0.4"/>
<rect x="501.15" y="167.61" width="6.4" height="38.29" fill="#c4727a"/>
<circle cx="479.5" cy="205.9" r="1.15" fill="#111"/>
<circle cx="481.6" cy="205.9" r="1.15" fill="#111"/>
<circle cx="483.7" cy="205.9" r="1.15" fill="#111"/>
<text x="490.8" y="217.4" stroke="#1a1a1a" stroke-width="0.18" text-anchor="middle" font-size="7.5">Z138</text>
<line x1="493.4" y1="205.9" x2="493.4" y2="207.7" stroke="#999" stroke-width="0.6"/>
<rect x="535.05" y="154.14" width="6.4" height="51.76" fill="#f2b9be"/>
<rect x="542.7" y="200.94" width="6.4" height="4.96" fill="#bcdcf2" stroke="#9cc8e8" stroke-width="0.4"/>
<rect x="550.35" y="147.05" width="6.4" height="58.85" fill="#c4727a"/>
<circle cx="528.7" cy="205.9" r="1.15" fill="#111"/>
<circle cx="530.8" cy="205.9" r="1.15" fill="#111"/>
<circle cx="532.9" cy="205.9" r="1.15" fill="#111"/>
<text x="541.8" y="217.4" stroke="#1a1a1a" stroke-width="0.18" text-anchor="middle" font-size="7.5">MINO</text>
<line x1="542.6" y1="205.9" x2="542.6" y2="207.7" stroke="#999" stroke-width="0.6"/>
<rect x="591.8" y="205.62" width="6.4" height="0.28" fill="#bcdcf2" stroke="#9cc8e8" stroke-width="0.4"/>
<rect x="599.45" y="201.65" width="6.4" height="4.25" fill="#c4727a"/>
<circle cx="577.8" cy="205.9" r="1.15" fill="#111"/>
<circle cx="579.9" cy="205.9" r="1.15" fill="#111"/>
<circle cx="582" cy="205.9" r="1.15" fill="#111"/>
<text x="589.1" y="217.4" stroke="#1a1a1a" stroke-width="0.18" text-anchor="middle" font-size="7.5">JVM2</text>
<line x1="591.7" y1="205.9" x2="591.7" y2="207.7" stroke="#999" stroke-width="0.6"/>
<circle cx="489.05" cy="169.74" r="1.05" fill="#e8728a"/>
<circle cx="489.95" cy="174" r="1.05" fill="#e8728a"/>
<circle cx="488.15" cy="184.63" r="1.05" fill="#e8728a"/>
<circle cx="496.7" cy="204.13" r="1.05" fill="#2a64b0"/>
<circle cx="497.6" cy="204.84" r="1.05" fill="#2a64b0"/>
<circle cx="495.8" cy="205.19" r="1.05" fill="#2a64b0"/>
<circle cx="504.35" cy="161.94" r="1.05" fill="#b2345a"/>
<circle cx="505.25" cy="164.78" r="1.05" fill="#b2345a"/>
<circle cx="503.45" cy="176.12" r="1.05" fill="#b2345a"/>
<circle cx="538.25" cy="152.02" r="1.05" fill="#e8728a"/>
<circle cx="539.15" cy="154.14" r="1.05" fill="#e8728a"/>
<circle cx="537.35" cy="154.85" r="1.05" fill="#e8728a"/>
<circle cx="545.9" cy="195.97" r="1.05" fill="#2a64b0"/>
<circle cx="546.8" cy="200.23" r="1.05" fill="#2a64b0"/>
<circle cx="545" cy="203.06" r="1.05" fill="#2a64b0"/>
<circle cx="553.55" cy="144.22" r="1.05" fill="#b2345a"/>
<circle cx="554.45" cy="147.05" r="1.05" fill="#b2345a"/>
<circle cx="552.65" cy="147.76" r="1.05" fill="#b2345a"/>
<circle cx="595" cy="200.23" r="1.05" fill="#2a64b0"/>
<circle cx="595.9" cy="203.77" r="1.05" fill="#2a64b0"/>
<circle cx="594.1" cy="205.19" r="1.05" fill="#2a64b0"/>
<circle cx="602.65" cy="195.97" r="1.05" fill="#b2345a"/>
<circle cx="603.55" cy="200.94" r="1.05" fill="#b2345a"/>
<circle cx="601.75" cy="201.65" r="1.05" fill="#b2345a"/>
<line x1="481.4" y1="158.8" x2="503.7" y2="158.8" stroke="#c8c8c8" stroke-width="0.6"/>
<text x="492.55" y="161.1" stroke="#1a1a1a" stroke-width="0.18" text-anchor="middle">***</text>
<line x1="481.4" y1="166.8" x2="489.4" y2="166.8" stroke="#c8c8c8" stroke-width="0.6"/>
<text x="485.4" y="168.7" stroke="#1a1a1a" stroke-width="0.18" text-anchor="middle">***</text>
<line x1="531.5" y1="139.8" x2="553.8" y2="139.8" stroke="#c8c8c8" stroke-width="0.6"/>
<text x="542.65" y="142" stroke="#1a1a1a" stroke-width="0.18" text-anchor="middle">***</text>
<line x1="531.5" y1="147.8" x2="540" y2="147.8" stroke="#c8c8c8" stroke-width="0.6"/>
<text x="535.75" y="149.7" stroke="#1a1a1a" stroke-width="0.18" text-anchor="middle">***</text>
<text x="442.2" y="264.6" font-weight="bold" font-size="10.8" fill="#000">G</text>
<line x1="492.2" y1="247.2" x2="492.2" y2="336.5" stroke="#999" stroke-width="0.6"/>
<line x1="492.2" y1="336.5" x2="623" y2="336.5" stroke="#999" stroke-width="0.6"/>
<line x1="490.4" y1="336.5" x2="492.2" y2="336.5" stroke="#999" stroke-width="0.6"/>
<text x="490.4" y="339" stroke="#1a1a1a" stroke-width="0.18" text-anchor="end">0.0</text>
<line x1="490.4" y1="302.15" x2="492.2" y2="302.15" stroke="#999" stroke-width="0.6"/>
<text x="490.4" y="304.65" stroke="#1a1a1a" stroke-width="0.18" text-anchor="end">0.5</text>
<line x1="490.4" y1="267.8" x2="492.2" y2="267.8" stroke="#999" stroke-width="0.6"/>
<text x="490.4" y="270.3" stroke="#1a1a1a" stroke-width="0.18" text-anchor="end">1.0</text>
<text transform="translate(475.8,304) rotate(-90)" stroke="#1a1a1a" stroke-width="0.18" text-anchor="middle">BCL2 mRNA expression relative to CT</text>
<rect x="493.1" y="267.8" width="8.9" height="68.7" fill="#dcdcdc"/>
<rect x="502" y="287.72" width="8.5" height="48.78" fill="#e97b98"/>
<line x1="497.8" y1="267.8" x2="497.8" y2="258.18" stroke="#aaa" stroke-width="0.6"/>
<line x1="496.2" y1="258.18" x2="499.4" y2="258.18" stroke="#aaa" stroke-width="0.6"/>
<line x1="506.2" y1="287.72" x2="506.2" y2="284.29" stroke="#aaa" stroke-width="0.6"/>
<line x1="504.6" y1="284.29" x2="507.8" y2="284.29" stroke="#aaa" stroke-width="0.6"/>
<line x1="502" y1="336.5" x2="502" y2="338.5" stroke="#999" stroke-width="0.6"/>
<rect x="520.5" y="267.8" width="8.9" height="68.7" fill="#dcdcdc"/>
<rect x="529.4" y="291.85" width="8.5" height="44.66" fill="#e97b98"/>
<line x1="525.2" y1="267.8" x2="525.2" y2="262.3" stroke="#aaa" stroke-width="0.6"/>
<line x1="523.6" y1="262.3" x2="526.8" y2="262.3" stroke="#aaa" stroke-width="0.6"/>
<line x1="533.6" y1="291.85" x2="533.6" y2="288.41" stroke="#aaa" stroke-width="0.6"/>
<line x1="532" y1="288.41" x2="535.2" y2="288.41" stroke="#aaa" stroke-width="0.6"/>
<line x1="529.4" y1="336.5" x2="529.4" y2="338.5" stroke="#999" stroke-width="0.6"/>
<rect x="547.8" y="267.8" width="8.9" height="68.7" fill="#dcdcdc"/>
<rect x="556.7" y="294.59" width="8.5" height="41.91" fill="#e97b98"/>
<line x1="552.5" y1="267.8" x2="552.5" y2="255.43" stroke="#aaa" stroke-width="0.6"/>
<line x1="550.9" y1="255.43" x2="554.1" y2="255.43" stroke="#aaa" stroke-width="0.6"/>
<line x1="560.9" y1="294.59" x2="560.9" y2="292.53" stroke="#aaa" stroke-width="0.6"/>
<line x1="559.3" y1="292.53" x2="562.5" y2="292.53" stroke="#aaa" stroke-width="0.6"/>
<line x1="556.7" y1="336.5" x2="556.7" y2="338.5" stroke="#999" stroke-width="0.6"/>
<rect x="574.9" y="267.8" width="8.9" height="68.7" fill="#dcdcdc"/>
<rect x="583.8" y="275.36" width="8.5" height="61.14" fill="#e97b98"/>
<line x1="579.6" y1="267.8" x2="579.6" y2="262.3" stroke="#aaa" stroke-width="0.6"/>
<line x1="578" y1="262.3" x2="581.2" y2="262.3" stroke="#aaa" stroke-width="0.6"/>
<line x1="588" y1="275.36" x2="588" y2="275.01" stroke="#aaa" stroke-width="0.6"/>
<line x1="586.4" y1="275.01" x2="589.6" y2="275.01" stroke="#aaa" stroke-width="0.6"/>
<line x1="583.8" y1="336.5" x2="583.8" y2="338.5" stroke="#999" stroke-width="0.6"/>
<rect x="602.1" y="267.8" width="8.9" height="68.7" fill="#dcdcdc"/>
<rect x="611" y="291.16" width="8.5" height="45.34" fill="#e97b98"/>
<line x1="606.8" y1="267.8" x2="606.8" y2="266.43" stroke="#aaa" stroke-width="0.6"/>
<line x1="605.2" y1="266.43" x2="608.4" y2="266.43" stroke="#aaa" stroke-width="0.6"/>
<line x1="615.2" y1="291.16" x2="615.2" y2="288.41" stroke="#aaa" stroke-width="0.6"/>
<line x1="613.6" y1="288.41" x2="616.8" y2="288.41" stroke="#aaa" stroke-width="0.6"/>
<line x1="611" y1="336.5" x2="611" y2="338.5" stroke="#999" stroke-width="0.6"/>
<line x1="499.7" y1="256.8" x2="506.4" y2="256.8" stroke="#d0d0d0" stroke-width="0.6"/>
<text x="502.3" y="257.9" stroke="#1a1a1a" stroke-width="0.18" text-anchor="middle">*</text>
<line x1="525.3" y1="261.4" x2="533.9" y2="261.4" stroke="#d0d0d0" stroke-width="0.6"/>
<text x="530.2" y="262.3" stroke="#1a1a1a" stroke-width="0.18" text-anchor="middle">**</text>
<line x1="552.3" y1="253.4" x2="561.5" y2="253.4" stroke="#d0d0d0" stroke-width="0.6"/>
<text x="556.9" y="255.3" stroke="#1a1a1a" stroke-width="0.18" text-anchor="middle">*</text>
<line x1="579.4" y1="262.2" x2="585" y2="262.2" stroke="#d0d0d0" stroke-width="0.6"/>
<line x1="605.5" y1="265.4" x2="615.7" y2="265.4" stroke="#d0d0d0" stroke-width="0.6"/>
<text x="612" y="266.8" stroke="#1a1a1a" stroke-width="0.18" text-anchor="middle">***</text>
<text x="584.5" y="261.1" stroke="#1a1a1a" stroke-width="0.18" text-anchor="middle" font-size="7.4">ns</text>
<rect x="628" y="237.2" width="5.9" height="5.7" fill="#dcdcdc"/>
<rect x="628" y="242.9" width="5.9" height="6.3" fill="#e97b98"/>
<text x="634.6" y="242.6" stroke="#1a1a1a" stroke-width="0.18">Control</text>
<text x="634.6" y="248.9" stroke="#1a1a1a" stroke-width="0.18">AU-15330 24h</text>
<text transform="translate(508.3,342.6) rotate(-57)" stroke="#1a1a1a" stroke-width="0.18" text-anchor="end">Z138</text>
<text transform="translate(531,342.6) rotate(-57)" stroke="#1a1a1a" stroke-width="0.18" text-anchor="end">MINO</text>
<text transform="translate(559.8,342.6) rotate(-57)" stroke="#1a1a1a" stroke-width="0.18" text-anchor="end">Granta-519</text>
<text transform="translate(588.3,342.6) rotate(-57)" stroke="#1a1a1a" stroke-width="0.18" text-anchor="end">JVM2TRE</text>
<text transform="translate(614.5,342.6) rotate(-57)" stroke="#1a1a1a" stroke-width="0.18" text-anchor="end">JVM2TRE</text>
<text transform="translate(620,351.6) rotate(-57)" stroke="#1a1a1a" stroke-width="0.18" text-anchor="end">SOX11</text>
<text x="0.8" y="402" font-weight="bold" font-size="10.8" fill="#000">H</text>
<text x="39.2" y="413" stroke="#1a1a1a" stroke-width="0.18" text-anchor="middle">Z138</text>
<text x="90.3" y="413" stroke="#1a1a1a" stroke-width="0.18" text-anchor="middle">MINO</text>
<text x="143.3" y="413" stroke="#1a1a1a" stroke-width="0.18" text-anchor="middle">JVM2</text>
<line x1="15" y1="416.2" x2="66.8" y2="416.2" stroke="#cccccc" stroke-width="0.7"/>
<line x1="69.1" y1="416.2" x2="120.3" y2="416.2" stroke="#cccccc" stroke-width="0.7"/>
<line x1="122.8" y1="416.2" x2="174.8" y2="416.2" stroke="#cccccc" stroke-width="0.7"/>
<text x="23.8" y="424.9" stroke="#1a1a1a" stroke-width="0.18" text-anchor="middle">-</text>
<text x="40.4" y="424.9" stroke="#1a1a1a" stroke-width="0.18" text-anchor="middle">24</text>
<text x="59.5" y="424.9" stroke="#1a1a1a" stroke-width="0.18" text-anchor="middle">72</text>
<text x="76.1" y="424.9" stroke="#1a1a1a" stroke-width="0.18" text-anchor="middle">-</text>
<text x="92.3" y="424.9" stroke="#1a1a1a" stroke-width="0.18" text-anchor="middle">24</text>
<text x="111.4" y="424.9" stroke="#1a1a1a" stroke-width="0.18" text-anchor="middle">72</text>
<text x="127.6" y="424.9" stroke="#1a1a1a" stroke-width="0.18" text-anchor="middle">-</text>
<text x="143.6" y="424.9" stroke="#1a1a1a" stroke-width="0.18" text-anchor="middle">24</text>
<text x="162.7" y="424.9" stroke="#1a1a1a" stroke-width="0.18" text-anchor="middle">72</text>
<text x="176.4" y="424.9" stroke="#1a1a1a" stroke-width="0.18">AU-15330 (h)</text>
<rect x="14.4" y="427.2" width="160.8" height="18.4" fill="#f9f9f9" stroke="#9a9a9a" stroke-width="0.6"/>
<rect x="16.6" y="435.5" width="13.8" height="1.6" rx="0.8" fill="rgba(0,0,0,0.87)" filter="url(#bl)"/>
<rect x="16.1" y="434.5" width="14.8" height="3.6" rx="1.8" fill="rgba(0,0,0,0.14)" filter="url(#bl2)"/>
<rect x="33.6" y="436.1" width="13.8" height="1" rx="0.5" fill="rgba(0,0,0,0.03)" filter="url(#bl)"/>
<rect x="33.1" y="435.1" width="14.8" height="3" rx="1.5" fill="rgba(0,0,0,0)" filter="url(#bl2)"/>
<rect x="51.2" y="436.1" width="13.8" height="1" rx="0.5" fill="rgba(0,0,0,0.03)" filter="url(#bl)"/>
<rect x="50.7" y="435.1" width="14.8" height="3" rx="1.5" fill="rgba(0,0,0,0)" filter="url(#bl2)"/>
<rect x="69.1" y="436.8" width="13.8" height="1.6" rx="0.8" fill="rgba(0,0,0,0.83)" filter="url(#bl)"/>
<rect x="68.6" y="435.8" width="14.8" height="3.6" rx="1.8" fill="rgba(0,0,0,0.14)" filter="url(#bl2)"/>
<rect x="123" y="436.4" width="13.8" height="1.2" rx="0.6" fill="rgba(0,0,0,0.32)" filter="url(#bl)"/>
<rect x="122.5" y="435.4" width="14.8" height="3.2" rx="1.6" fill="rgba(0,0,0,0.05)" filter="url(#bl2)"/>
<text x="176.4" y="438.9" stroke="#1a1a1a" stroke-width="0.18">SMARCA4</text>
<rect x="14.4" y="447.7" width="160.8" height="15.9" fill="#f7f7f7" stroke="#9a9a9a" stroke-width="0.6"/>
<rect x="16.6" y="453.85" width="13.8" height="1.5" rx="0.75" fill="rgba(0,0,0,0.83)" filter="url(#bl)"/>
<rect x="16.1" y="452.85" width="14.8" height="3.5" rx="1.75" fill="rgba(0,0,0,0.14)" filter="url(#bl2)"/>
<rect x="33.6" y="455.35" width="13.8" height="1.3" rx="0.65" fill="rgba(0,0,0,0.51)" filter="url(#bl)"/>
<rect x="33.1" y="454.35" width="14.8" height="3.3" rx="1.65" fill="rgba(0,0,0,0.08)" filter="url(#bl2)"/>
<rect x="51.2" y="456" width="13.8" height="1.2" rx="0.6" fill="rgba(0,0,0,0.37)" filter="url(#bl)"/>
<rect x="50.7" y="455" width="14.8" height="3.2" rx="1.6" fill="rgba(0,0,0,0.06)" filter="url(#bl2)"/>
<rect x="69.1" y="456.1" width="13.8" height="1.6" rx="0.8" fill="rgba(0,0,0,0.83)" filter="url(#bl)"/>
<rect x="68.6" y="455.1" width="14.8" height="3.6" rx="1.8" fill="rgba(0,0,0,0.14)" filter="url(#bl2)"/>
<rect x="87.5" y="455.35" width="13.8" height="1.3" rx="0.65" fill="rgba(0,0,0,0.51)" filter="url(#bl)"/>
<rect x="87" y="454.35" width="14.8" height="3.3" rx="1.65" fill="rgba(0,0,0,0.08)" filter="url(#bl2)"/>
<rect x="105.5" y="455.15" width="13.8" height="1.3" rx="0.65" fill="rgba(0,0,0,0.46)" filter="url(#bl)"/>
<rect x="105" y="454.15" width="14.8" height="3.3" rx="1.65" fill="rgba(0,0,0,0.07)" filter="url(#bl2)"/>
<rect x="123" y="454.75" width="13.8" height="1.5" rx="0.75" fill="rgba(0,0,0,0.83)" filter="url(#bl)"/>
<rect x="122.5" y="453.75" width="14.8" height="3.5" rx="1.75" fill="rgba(0,0,0,0.14)" filter="url(#bl2)"/>
<rect x="140.4" y="454.25" width="13.8" height="1.5" rx="0.75" fill="rgba(0,0,0,0.78)" filter="url(#bl)"/>
<rect x="139.9" y="453.25" width="14.8" height="3.5" rx="1.75" fill="rgba(0,0,0,0.13)" filter="url(#bl2)"/>
<rect x="158.5" y="453.25" width="13.8" height="1.5" rx="0.75" fill="rgba(0,0,0,0.78)" filter="url(#bl)"/>
<rect x="158" y="452.25" width="14.8" height="3.5" rx="1.75" fill="rgba(0,0,0,0.13)" filter="url(#bl2)"/>
<text x="176.4" y="458.15" stroke="#1a1a1a" stroke-width="0.18">BCL2</text>
<rect x="14.4" y="466.3" width="160.8" height="17" fill="#f7f7f7" stroke="#9a9a9a" stroke-width="0.6"/>
<rect x="15.25" y="473.7" width="16.5" height="2.2" rx="1.1" fill="rgba(0,0,0,0.57)" filter="url(#bl)"/>
<rect x="14.75" y="472.7" width="17.5" height="4.2" rx="2" fill="rgba(0,0,0,0.09)" filter="url(#bl2)"/>
<rect x="32.25" y="474.5" width="16.5" height="2.6" rx="1.3" fill="rgba(0,0,0,0.63)" filter="url(#bl)"/>
<rect x="31.75" y="473.5" width="17.5" height="4.6" rx="2" fill="rgba(0,0,0,0.1)" filter="url(#bl2)"/>
<rect x="49.85" y="474.3" width="16.5" height="2.4" rx="1.2" fill="rgba(0,0,0,0.57)" filter="url(#bl)"/>
<rect x="49.35" y="473.3" width="17.5" height="4.4" rx="2" fill="rgba(0,0,0,0.09)" filter="url(#bl2)"/>
<rect x="67.75" y="473.7" width="16.5" height="2.2" rx="1.1" fill="rgba(0,0,0,0.61)" filter="url(#bl)"/>
<rect x="67.25" y="472.7" width="17.5" height="4.2" rx="2" fill="rgba(0,0,0,0.1)" filter="url(#bl2)"/>
<rect x="86.15" y="473.5" width="16.5" height="2.2" rx="1.1" fill="rgba(0,0,0,0.55)" filter="url(#bl)"/>
<rect x="85.65" y="472.5" width="17.5" height="4.2" rx="2" fill="rgba(0,0,0,0.09)" filter="url(#bl2)"/>
<rect x="104.15" y="473.1" width="16.5" height="2.2" rx="1.1" fill="rgba(0,0,0,0.52)" filter="url(#bl)"/>
<rect x="103.65" y="472.1" width="17.5" height="4.2" rx="2" fill="rgba(0,0,0,0.08)" filter="url(#bl2)"/>
<rect x="121.65" y="473.3" width="16.5" height="2.2" rx="1.1" fill="rgba(0,0,0,0.61)" filter="url(#bl)"/>
<rect x="121.15" y="472.3" width="17.5" height="4.2" rx="2" fill="rgba(0,0,0,0.1)" filter="url(#bl2)"/>
<rect x="139.05" y="473.3" width="16.5" height="2.2" rx="1.1" fill="rgba(0,0,0,0.55)" filter="url(#bl)"/>
<rect x="138.55" y="472.3" width="17.5" height="4.2" rx="2" fill="rgba(0,0,0,0.09)" filter="url(#bl2)"/>
<rect x="157.15" y="472.7" width="16.5" height="2.2" rx="1.1" fill="rgba(0,0,0,0.52)" filter="url(#bl)"/>
<rect x="156.65" y="471.7" width="17.5" height="4.2" rx="2" fill="rgba(0,0,0,0.08)" filter="url(#bl2)"/>
<text x="176.4" y="478.3" stroke="#1a1a1a" stroke-width="0.18">Tubulin</text>
<rect x="15.75" y="448.8" width="15.5" height="1.6" rx="0.8" fill="rgba(0,0,0,0.1)" filter="url(#bl2)"/>
<rect x="32.75" y="448.8" width="15.5" height="1.6" rx="0.8" fill="rgba(0,0,0,0.1)" filter="url(#bl2)"/>
<rect x="50.35" y="448.8" width="15.5" height="1.6" rx="0.8" fill="rgba(0,0,0,0.1)" filter="url(#bl2)"/>
<rect x="68.25" y="448.8" width="15.5" height="1.6" rx="0.8" fill="rgba(0,0,0,0.1)" filter="url(#bl2)"/>
<rect x="86.65" y="448.8" width="15.5" height="1.6" rx="0.8" fill="rgba(0,0,0,0.1)" filter="url(#bl2)"/>
<rect x="104.65" y="448.8" width="15.5" height="1.6" rx="0.8" fill="rgba(0,0,0,0.1)" filter="url(#bl2)"/>
<rect x="122.15" y="448.8" width="15.5" height="1.6" rx="0.8" fill="rgba(0,0,0,0.1)" filter="url(#bl2)"/>
<rect x="139.55" y="448.8" width="15.5" height="1.6" rx="0.8" fill="rgba(0,0,0,0.1)" filter="url(#bl2)"/>
<rect x="157.65" y="448.8" width="15.5" height="1.6" rx="0.8" fill="rgba(0,0,0,0.1)" filter="url(#bl2)"/>
<rect x="32.75" y="468.5" width="15.5" height="4" rx="2" fill="rgba(0,0,0,0.1)" filter="url(#bl2)"/>
<rect x="50.35" y="468.5" width="15.5" height="4" rx="2" fill="rgba(0,0,0,0.1)" filter="url(#bl2)"/>
<line x1="67.4" y1="427.2" x2="67.4" y2="483.3" stroke="#8a8a8a" stroke-width="0.6"/>
<line x1="121.4" y1="427.2" x2="121.4" y2="483.3" stroke="#8a8a8a" stroke-width="0.6"/>
<text x="232.2" y="368.7" font-weight="bold" font-size="10.8" fill="#000">I</text>
<text x="341.2" y="350.4" stroke="#1a1a1a" stroke-width="0.18">Z138</text>
<rect x="340.4" y="353.4" width="8.1" height="7.8" fill="#bccbec"/>
<text x="350" y="359.7" stroke="#1a1a1a" stroke-width="0.18">Control</text>
<rect x="340.4" y="361.2" width="8.1" height="7.8" fill="#36527c"/>
<text x="350" y="367.5" stroke="#1a1a1a" stroke-width="0.18">SMARCA4KO</text>
<rect x="340.4" y="369" width="8.1" height="7.8" fill="#f1c1c5"/>
<text x="350" y="375.3" stroke="#1a1a1a" stroke-width="0.18">+AU-15330</text>
<line x1="259.4" y1="383.5" x2="259.4" y2="477.3" stroke="#999" stroke-width="0.6"/>
<line x1="259.2" y1="477.3" x2="382.8" y2="477.3" stroke="#999" stroke-width="0.6"/>
<line x1="257.5" y1="477.3" x2="259.4" y2="477.3" stroke="#999" stroke-width="0.6"/>
<text x="255.6" y="479.8" stroke="#1a1a1a" stroke-width="0.18" text-anchor="end">0.0</text>
<line x1="257.5" y1="461.94" x2="259.4" y2="461.94" stroke="#999" stroke-width="0.6"/>
<text x="255.6" y="464.44" stroke="#1a1a1a" stroke-width="0.18" text-anchor="end">0.2</text>
<line x1="257.5" y1="446.58" x2="259.4" y2="446.58" stroke="#999" stroke-width="0.6"/>
<text x="255.6" y="449.08" stroke="#1a1a1a" stroke-width="0.18" text-anchor="end">0.4</text>
<line x1="257.5" y1="431.22" x2="259.4" y2="431.22" stroke="#999" stroke-width="0.6"/>
<text x="255.6" y="433.72" stroke="#1a1a1a" stroke-width="0.18" text-anchor="end">0.6</text>
<line x1="257.5" y1="415.86" x2="259.4" y2="415.86" stroke="#999" stroke-width="0.6"/>
<text x="255.6" y="418.36" stroke="#1a1a1a" stroke-width="0.18" text-anchor="end">0.8</text>
<line x1="257.5" y1="400.5" x2="259.4" y2="400.5" stroke="#999" stroke-width="0.6"/>
<text x="255.6" y="403" stroke="#1a1a1a" stroke-width="0.18" text-anchor="end">1.0</text>
<line x1="257.5" y1="385.14" x2="259.4" y2="385.14" stroke="#999" stroke-width="0.6"/>
<text x="255.6" y="387.64" stroke="#1a1a1a" stroke-width="0.18" text-anchor="end">1.2</text>
<text transform="translate(240.8,430.4) rotate(-90)" stroke="#1a1a1a" stroke-width="0.18" text-anchor="middle">mRNA expression relative to CT</text>
<rect x="262.6" y="400.5" width="7" height="76.8" fill="#bccbec"/>
<line x1="266.1" y1="400.5" x2="266.1" y2="397.43" stroke="#777" stroke-width="0.5"/>
<line x1="265.1" y1="397.43" x2="267.1" y2="397.43" stroke="#777" stroke-width="0.5"/>
<rect x="270.95" y="460.79" width="7" height="16.51" fill="#36527c"/>
<line x1="274.45" y1="460.79" x2="274.45" y2="460.02" stroke="#777" stroke-width="0.5"/>
<line x1="273.45" y1="460.02" x2="275.45" y2="460.02" stroke="#777" stroke-width="0.5"/>
<rect x="279.3" y="465.78" width="7" height="11.52" fill="#f1c1c5"/>
<line x1="282.8" y1="465.78" x2="282.8" y2="465.01" stroke="#777" stroke-width="0.5"/>
<line x1="281.8" y1="465.01" x2="283.8" y2="465.01" stroke="#777" stroke-width="0.5"/>
<rect x="293.1" y="400.5" width="7" height="76.8" fill="#bccbec"/>
<line x1="296.6" y1="400.5" x2="296.6" y2="400.12" stroke="#777" stroke-width="0.5"/>
<line x1="295.6" y1="400.12" x2="297.6" y2="400.12" stroke="#777" stroke-width="0.5"/>
<rect x="301.45" y="438.13" width="7" height="39.17" fill="#36527c"/>
<line x1="304.95" y1="438.13" x2="304.95" y2="432.76" stroke="#777" stroke-width="0.5"/>
<line x1="303.95" y1="432.76" x2="305.95" y2="432.76" stroke="#777" stroke-width="0.5"/>
<rect x="309.8" y="461.17" width="7" height="16.13" fill="#f1c1c5"/>
<line x1="313.3" y1="461.17" x2="313.3" y2="460.79" stroke="#777" stroke-width="0.5"/>
<line x1="312.3" y1="460.79" x2="314.3" y2="460.79" stroke="#777" stroke-width="0.5"/>
<rect x="324.7" y="400.5" width="7" height="76.8" fill="#bccbec"/>
<line x1="328.2" y1="400.5" x2="328.2" y2="397.43" stroke="#777" stroke-width="0.5"/>
<line x1="327.2" y1="397.43" x2="329.2" y2="397.43" stroke="#777" stroke-width="0.5"/>
<rect x="333.05" y="423.54" width="7" height="53.76" fill="#36527c"/>
<line x1="336.55" y1="423.54" x2="336.55" y2="420.47" stroke="#777" stroke-width="0.5"/>
<line x1="335.55" y1="420.47" x2="337.55" y2="420.47" stroke="#777" stroke-width="0.5"/>
<rect x="341.4" y="470" width="7" height="7.3" fill="#f1c1c5"/>
<line x1="344.9" y1="470" x2="344.9" y2="469.24" stroke="#777" stroke-width="0.5"/>
<line x1="343.9" y1="469.24" x2="345.9" y2="469.24" stroke="#777" stroke-width="0.5"/>
<rect x="356.1" y="400.5" width="7" height="76.8" fill="#bccbec"/>
<line x1="359.6" y1="400.5" x2="359.6" y2="400.12" stroke="#777" stroke-width="0.5"/>
<line x1="358.6" y1="400.12" x2="360.6" y2="400.12" stroke="#777" stroke-width="0.5"/>
<rect x="364.45" y="418.93" width="7" height="58.37" fill="#36527c"/>
<line x1="367.95" y1="418.93" x2="367.95" y2="415.86" stroke="#777" stroke-width="0.5"/>
<line x1="366.95" y1="415.86" x2="368.95" y2="415.86" stroke="#777" stroke-width="0.5"/>
<rect x="372.8" y="464.24" width="7" height="13.06" fill="#f1c1c5"/>
<line x1="376.3" y1="464.24" x2="376.3" y2="463.48" stroke="#777" stroke-width="0.5"/>
<line x1="375.3" y1="463.48" x2="377.3" y2="463.48" stroke="#777" stroke-width="0.5"/>
<text transform="translate(284.8,485) rotate(-40)" stroke="#1a1a1a" stroke-width="0.18" text-anchor="end">SMARCA4</text>
<text transform="translate(307.3,485) rotate(-40)" stroke="#1a1a1a" stroke-width="0.18" text-anchor="end">BLK</text>
<text transform="translate(343.3,483) rotate(-40)" stroke="#1a1a1a" stroke-width="0.18" text-anchor="end">CD79A</text>
<text transform="translate(370.6,484) rotate(-40)" stroke="#1a1a1a" stroke-width="0.18" text-anchor="end">SYK</text>
<text x="405.6" y="399" font-weight="bold" font-size="10.8" fill="#000">J</text>
<line x1="449.3" y1="396" x2="449.3" y2="482.9" stroke="#999" stroke-width="0.6"/>
<line x1="449.3" y1="482.9" x2="504.8" y2="482.9" stroke="#999" stroke-width="0.6"/>
<line x1="447.3" y1="482.9" x2="449.3" y2="482.9" stroke="#999" stroke-width="0.6"/>
<text x="445.3" y="485.4" stroke="#1a1a1a" stroke-width="0.18" text-anchor="end">0</text>
<line x1="447.3" y1="454.4" x2="449.3" y2="454.4" stroke="#999" stroke-width="0.6"/>
<text x="445.3" y="456.9" stroke="#1a1a1a" stroke-width="0.18" text-anchor="end">50</text>
<line x1="447.3" y1="425.9" x2="449.3" y2="425.9" stroke="#999" stroke-width="0.6"/>
<text x="445.3" y="428.4" stroke="#1a1a1a" stroke-width="0.18" text-anchor="end">100</text>
<line x1="447.3" y1="397.4" x2="449.3" y2="397.4" stroke="#999" stroke-width="0.6"/>
<text x="445.3" y="399.9" stroke="#1a1a1a" stroke-width="0.18" text-anchor="end">150</text>
<text transform="translate(425.8,440) rotate(-90)" stroke="#1a1a1a" stroke-width="0.18" text-anchor="middle">Cell proliferation</text>
<text transform="translate(431.8,440) rotate(-90)" stroke="#1a1a1a" stroke-width="0.18" text-anchor="middle">relative to control (%)</text>
<rect x="453.7" y="425.9" width="9.4" height="57" fill="#bccbec" stroke="#a8b8dc" stroke-width="0.5"/>
<rect x="467.2" y="441.29" width="9.4" height="41.61" fill="#36527c"/>
<line x1="471.9" y1="448.13" x2="471.9" y2="433.88" stroke="#888" stroke-width="0.5"/>
<line x1="470.4" y1="433.88" x2="473.4" y2="433.88" stroke="#888" stroke-width="0.5"/>
<line x1="470.4" y1="448.13" x2="473.4" y2="448.13" stroke="#888" stroke-width="0.5"/>
<rect x="481.4" y="425.9" width="9.4" height="57" fill="#e8e8e8" stroke="#cccccc" stroke-width="0.5"/>
<rect x="494" y="456.68" width="9.4" height="26.22" fill="#f1c1c5"/>
<line x1="498.7" y1="458.96" x2="498.7" y2="454.4" stroke="#888" stroke-width="0.5"/>
<line x1="497.2" y1="454.4" x2="500.2" y2="454.4" stroke="#888" stroke-width="0.5"/>
<line x1="497.2" y1="458.96" x2="500.2" y2="458.96" stroke="#888" stroke-width="0.5"/>
<circle cx="455.8" cy="425.9" r="0.95" fill="none" stroke="#8fa2cc" stroke-width="0.45"/>
<circle cx="458.3" cy="425.9" r="0.95" fill="none" stroke="#8fa2cc" stroke-width="0.45"/>
<circle cx="460.8" cy="425.9" r="0.95" fill="none" stroke="#8fa2cc" stroke-width="0.45"/>
<circle cx="472" cy="430.46" r="0.95" fill="none" stroke="#9aa8c0" stroke-width="0.45"/>
<circle cx="472" cy="438.72" r="0.95" fill="none" stroke="#9aa8c0" stroke-width="0.45"/>
<circle cx="472" cy="454.97" r="0.95" fill="none" stroke="#6a7a98" stroke-width="0.45"/>
<circle cx="484.2" cy="425.9" r="0.95" fill="none" stroke="#999" stroke-width="0.45"/>
<circle cx="488.6" cy="425.9" r="0.95" fill="none" stroke="#999" stroke-width="0.45"/>
<circle cx="498.8" cy="454.97" r="0.95" fill="none" stroke="#b09098" stroke-width="0.45"/>
<circle cx="498.8" cy="458.96" r="0.95" fill="none" stroke="#b09098" stroke-width="0.45"/>
<line x1="458.3" y1="421.3" x2="471.9" y2="421.3" stroke="#c8c8c8" stroke-width="0.6"/>
<text x="465.1" y="422" stroke="#1a1a1a" stroke-width="0.18" text-anchor="middle">**</text>
<line x1="485.7" y1="423.4" x2="499.2" y2="423.4" stroke="#c8c8c8" stroke-width="0.6"/>
<text x="492.45" y="424.4" stroke="#1a1a1a" stroke-width="0.18" text-anchor="middle">*</text>
<text x="512.4" y="399" font-weight="bold" font-size="10.8" fill="#000">K</text>
<line x1="554.3" y1="396.5" x2="554.3" y2="482.9" stroke="#999" stroke-width="0.6"/>
<line x1="554.3" y1="482.9" x2="610.8" y2="482.9" stroke="#999" stroke-width="0.6"/>
<line x1="552.4" y1="482.9" x2="554.3" y2="482.9" stroke="#999" stroke-width="0.6"/>
<text x="550" y="485.4" stroke="#1a1a1a" stroke-width="0.18" text-anchor="end">0</text>
<line x1="552.4" y1="465.9" x2="554.3" y2="465.9" stroke="#999" stroke-width="0.6"/>
<text x="550" y="468.4" stroke="#1a1a1a" stroke-width="0.18" text-anchor="end">5</text>
<line x1="552.4" y1="448.9" x2="554.3" y2="448.9" stroke="#999" stroke-width="0.6"/>
<text x="550" y="451.4" stroke="#1a1a1a" stroke-width="0.18" text-anchor="end">10</text>
<line x1="552.4" y1="431.9" x2="554.3" y2="431.9" stroke="#999" stroke-width="0.6"/>
<text x="550" y="434.4" stroke="#1a1a1a" stroke-width="0.18" text-anchor="end">15</text>
<line x1="552.4" y1="414.9" x2="554.3" y2="414.9" stroke="#999" stroke-width="0.6"/>
<text x="550" y="417.4" stroke="#1a1a1a" stroke-width="0.18" text-anchor="end">20</text>
<line x1="552.4" y1="397.9" x2="554.3" y2="397.9" stroke="#999" stroke-width="0.6"/>
<text x="550" y="400.4" stroke="#1a1a1a" stroke-width="0.18" text-anchor="end">25</text>
<text transform="translate(531.8,443) rotate(-90)" stroke="#1a1a1a" stroke-width="0.18" text-anchor="middle">Cell death</text>
<text transform="translate(537.9,443) rotate(-90)" stroke="#1a1a1a" stroke-width="0.18" text-anchor="middle">relative to control (%)</text>
<rect x="559.4" y="458.76" width="9.4" height="24.14" fill="#bccbec" stroke="#a8b8dc" stroke-width="0.5"/>
<line x1="564.1" y1="461.48" x2="564.1" y2="456.04" stroke="#888" stroke-width="0.5"/>
<line x1="562.6" y1="456.04" x2="565.6" y2="456.04" stroke="#888" stroke-width="0.5"/>
<line x1="562.6" y1="461.48" x2="565.6" y2="461.48" stroke="#888" stroke-width="0.5"/>
<rect x="572.8" y="433.94" width="9.4" height="48.96" fill="#36527c"/>
<line x1="577.5" y1="440.4" x2="577.5" y2="428.84" stroke="#888" stroke-width="0.5"/>
<line x1="576" y1="428.84" x2="579" y2="428.84" stroke="#888" stroke-width="0.5"/>
<line x1="576" y1="440.4" x2="579" y2="440.4" stroke="#888" stroke-width="0.5"/>
<rect x="586.3" y="461.14" width="9.4" height="21.76" fill="#e8e8e8" stroke="#cccccc" stroke-width="0.5"/>
<rect x="599.7" y="429.18" width="9.4" height="53.72" fill="#f1c1c5"/>
<line x1="604.4" y1="445.5" x2="604.4" y2="412.18" stroke="#888" stroke-width="0.5"/>
<line x1="602.9" y1="412.18" x2="605.9" y2="412.18" stroke="#888" stroke-width="0.5"/>
<line x1="602.9" y1="445.5" x2="605.9" y2="445.5" stroke="#888" stroke-width="0.5"/>
<circle cx="561.7" cy="456.38" r="0.95" fill="none" stroke="#8a8a8a" stroke-width="0.45"/>
<circle cx="565.4" cy="456.72" r="0.95" fill="none" stroke="#8a8a8a" stroke-width="0.45"/>
<circle cx="563.4" cy="463.86" r="0.95" fill="none" stroke="#8a8a8a" stroke-width="0.45"/>
<circle cx="576.8" cy="425.44" r="0.95" fill="none" stroke="#8a8a8a" stroke-width="0.45"/>
<circle cx="576.8" cy="439.04" r="0.95" fill="none" stroke="#8a8a8a" stroke-width="0.45"/>
<circle cx="576.8" cy="444.14" r="0.95" fill="none" stroke="#8a8a8a" stroke-width="0.45"/>
<circle cx="589.5" cy="461.14" r="0.95" fill="none" stroke="#8a8a8a" stroke-width="0.45"/>
<circle cx="592.5" cy="461.14" r="0.95" fill="none" stroke="#8a8a8a" stroke-width="0.45"/>
<circle cx="604.5" cy="413.2" r="0.95" fill="none" stroke="#8a8a8a" stroke-width="0.45"/>
<circle cx="604.5" cy="445.5" r="0.95" fill="none" stroke="#8a8a8a" stroke-width="0.45"/>
<line x1="588.8" y1="461.14" x2="593.2" y2="461.14" stroke="#999" stroke-width="0.5"/>
<line x1="563.7" y1="422.2" x2="577.2" y2="422.2" stroke="#c8c8c8" stroke-width="0.6"/>
<text x="570.45" y="424.4" stroke="#1a1a1a" stroke-width="0.18" text-anchor="middle" font-size="8">*</text>
<line x1="590.8" y1="409.2" x2="604.2" y2="409.2" stroke="#c8c8c8" stroke-width="0.6"/>
<text x="597.5" y="411.2" stroke="#1a1a1a" stroke-width="0.18" text-anchor="middle" font-size="8">***</text>
<text x="631.5" y="414.6" stroke="#1a1a1a" stroke-width="0.18">Z138</text>
<rect x="630.9" y="416.8" width="7.8" height="7.6" fill="#bccbec" stroke="#a8b8dc" stroke-width="0.5"/>
<text x="640" y="423" stroke="#1a1a1a" stroke-width="0.18">Control</text>
<rect x="630.9" y="424.8" width="7.8" height="7.6" fill="#36527c" stroke="#2a4068" stroke-width="0.5"/>
<text x="640" y="431.05" stroke="#1a1a1a" stroke-width="0.18">SMARCA4KO</text>
<rect x="630.9" y="432.8" width="7.8" height="7.6" fill="#e8e8e8" stroke="#c8c8c8" stroke-width="0.5"/>
<text x="640" y="439.1" stroke="#1a1a1a" stroke-width="0.18">+DMSO</text>
<rect x="630.9" y="440.8" width="7.8" height="7.6" fill="#f1c1c5" stroke="#e0a8ae" stroke-width="0.5"/>
<text x="640" y="447.15" stroke="#1a1a1a" stroke-width="0.18">+AU-15330</text>
</svg>
</body></html>
